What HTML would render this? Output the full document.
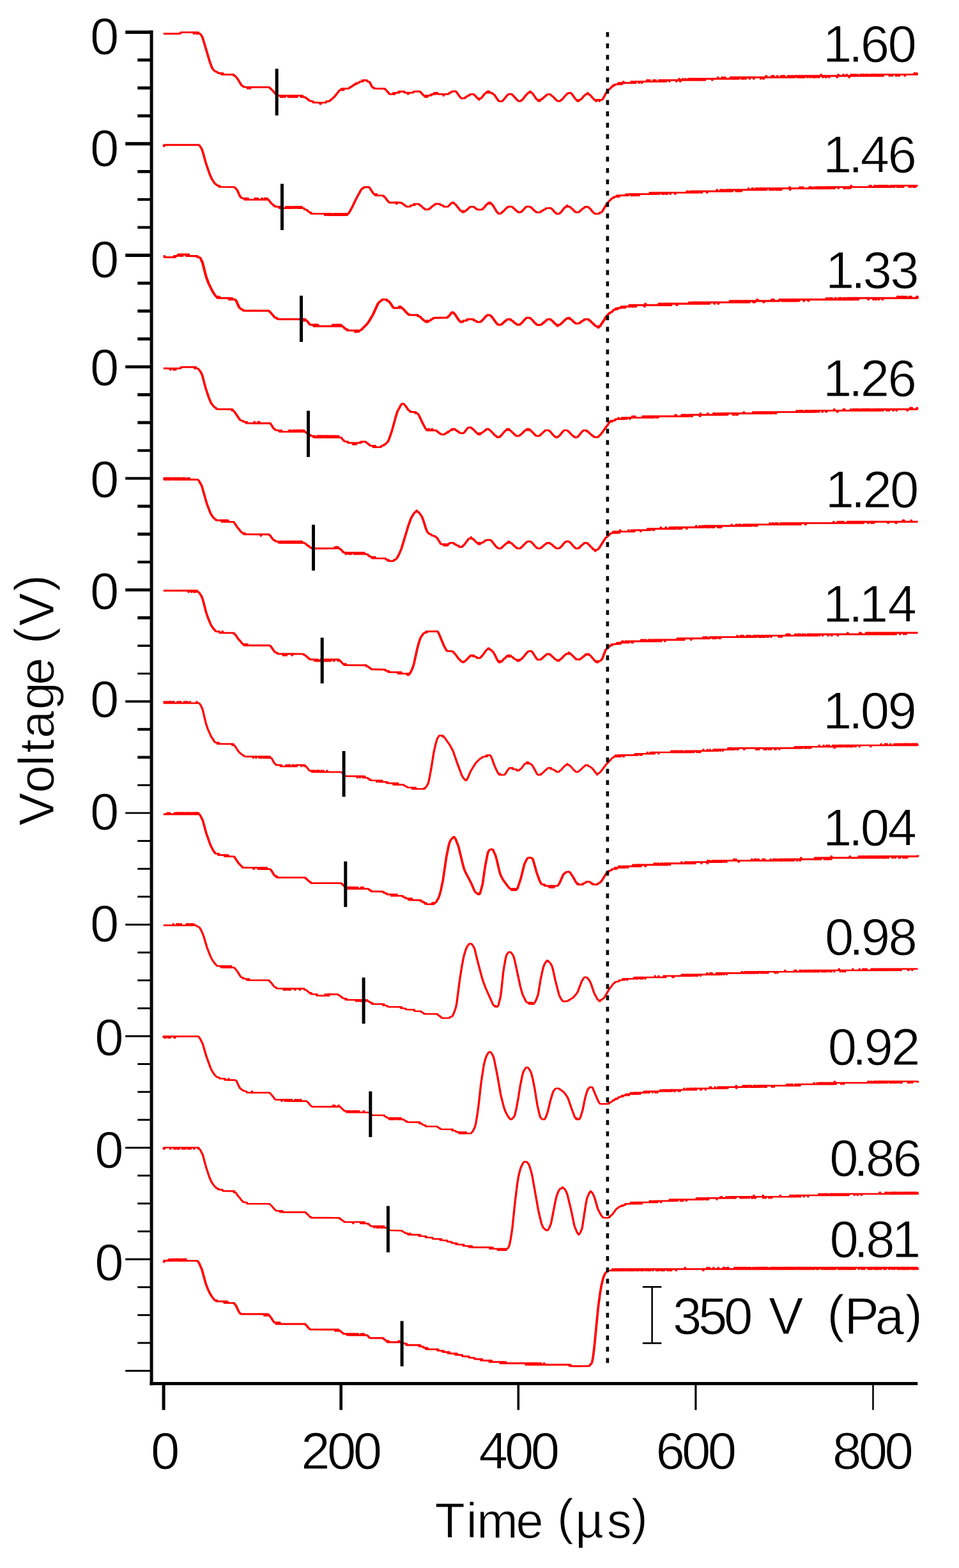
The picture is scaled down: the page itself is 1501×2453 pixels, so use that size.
<!DOCTYPE html>
<html lang="en">
<head>
<meta charset="utf-8">
<title>Voltage vs Time</title>
<style>
html,body{margin:0;padding:0;background:#fff;}
body{width:1501px;height:2453px;overflow:hidden;}
svg{display:block;}
text{font-family:"Liberation Sans",sans-serif;font-size:81.5px;fill:#000;stroke:#fff;stroke-width:1px;paint-order:fill stroke;}
.tr{fill:none;stroke:#ff0000;stroke-width:2.6;stroke-linejoin:round;stroke-linecap:butt;}
.mk{stroke:#000;stroke-width:5.0;}
.ax{stroke:#000;fill:none;}
</style>
</head>
<body>
<svg width="1501" height="2453" viewBox="0 0 1501 2453">
<rect x="0" y="0" width="1501" height="2453" fill="#ffffff"/>
<g id="traces" transform="scale(1.3,1)">
<polyline class="tr" style="stroke-width:2.9" points="196.77,52.8 215.62,52.8 217.15,52.3 217.54,51 219.46,50.6 233.31,50.6 233.69,52.8 234.08,50.6 236.38,50.6 236.77,52.8 237.15,50.6 237.54,52.8 238.31,52.8 238.69,50.6 239.08,52.8 240.62,52.6 241.38,53.4 243.31,57.2 244.08,59.5 252.92,98.1 255.62,107 257.15,109.5 258.31,110.5 258.69,111.6 259.08,111.8 261.77,112.6 262.15,114.2 266.38,114.5 266.77,116.4 267.54,116.5 267.92,114.6 268.31,114.6 268.69,116.5 281.38,116.7 281.77,118.5 282.54,118.5 283.31,119.1 286.38,124 290.62,133.2 291.77,134.4 292.92,134.6 293.31,136.1 297.92,136.4 298.31,138.6 298.69,136.4 300.62,136.4 301,138.6 301.38,136.4 323.69,136.5 324.85,137.1 325.23,138.2 326.38,139.2 326.77,140.2 328.31,141.5 331.38,146.5 332.54,147.6 333.69,147.9 334.08,149.3 337.54,149.7 337.92,151.8 338.31,149.6 338.69,149.6 339.08,151.8 339.46,149.6 339.85,149.6 340.23,151.8 340.62,149.6 341.38,149.6 341.77,151.8 342.15,149.6 342.54,151.8 342.92,151.8 343.31,149.6 346.77,149.6 347.15,151.8 347.54,149.6 348.31,149.6 348.69,151.8 349.08,149.6 349.46,151.8 350.23,151.8 350.62,149.6 351,151.8 351.38,149.6 351.77,151.8 352.15,149.6 352.54,149.6 352.92,151.8 353.31,149.6 353.69,151.8 354.08,149.6 354.46,151.8 354.85,151.8 355.23,149.6 356,149.6 356.38,151.8 356.77,149.6 357.15,149.6 357.54,151.8 357.92,149.6 362.15,149.6 362.54,151.8 362.92,149.6 363.31,151.8 363.69,151.8 364.08,149.6 364.46,151.8 366,151.6 367.92,152.3 368.31,153.4 370.23,154.6 370.62,155.7 371.77,156.4 372.15,157.5 372.54,156.7 372.92,157.9 376.77,158.7 377.15,160.3 385.23,160.6 385.62,162.8 386,162.8 386.38,160.6 392.54,160.4 392.92,158.7 397.15,158 397.54,156.8 399.08,155.8 399.46,154.8 401,153.5 401.38,152.6 402.92,151.1 408.69,141.4 409.46,140.9 410.62,140.7 411,138.9 411.38,140.7 412.15,140.7 412.54,138.7 413.31,138.7 413.69,140.7 414.08,138.6 418.69,138.6 420.62,138.1 421,136.7 423.31,135.8 423.69,134.7 425.23,133.9 425.62,132.7 426,133.6 426.38,132.4 427.92,131.9 428.31,130.4 428.69,130.3 429.08,131.6 429.46,130.2 432.54,129.4 432.92,127.9 436,127.4 436.38,125.6 436.77,127.4 437.15,127.4 437.54,125.5 437.92,125.5 441.77,125.6 442.15,127.3 444.85,128.1 447.92,135.8 448.31,136.3 449.46,136.9 449.85,138.1 450.23,137.1 450.62,138.4 451.38,138.6 462.92,138.7 463.69,139.1 464.08,140.3 465.62,141.7 467.54,144.9 468.31,145.7 468.69,146.7 469.85,147.4 473.31,147.3 473.69,145.4 474.08,147.3 474.46,145.4 474.85,147.2 475.23,147.2 475.62,145.4 479.46,145 479.85,143.2 480.23,143.2 480.62,145 481,143.1 486.77,143.2 487.15,144.9 491,145.3 491.38,147.3 491.77,145.2 497.54,144.9 497.92,143.3 504.85,142.9 506,143.5 506.38,144.5 507.54,145.6 509.46,148.8 511,149.9 511.38,151.2 511.77,149.9 512.15,151.7 512.54,149.6 512.92,151.8 513.31,149.6 514.08,149.7 514.46,151.7 514.85,149.7 518.31,149.3 518.69,147.8 519.08,147.8 519.46,149.1 519.85,147.6 522.15,147.2 522.54,145.5 522.92,147.2 523.31,147.2 523.69,145.3 524.08,145.3 524.46,147.3 524.85,145.2 525.62,145.2 526.77,145.3 527.15,147.2 533.69,147.4 534.08,149.6 534.46,147.4 538.69,147.4 540.23,147 540.62,145.6 542.92,144.8 543.31,143.6 545.23,143 548.31,142.8 549.46,143.6 553.31,150.9 554.46,152.3 554.85,153.3 555.62,153.9 557.92,153.9 559.85,153.5 560.23,152.1 562.15,151.4 562.54,150.2 565.23,149.3 565.62,147.8 569.85,147.4 571,148 571.38,149 572.54,150.2 574.46,153.3 576,154.2 576.38,155.9 576.77,156.2 577.15,154 578.31,154.2 579.46,153.4 584.08,146 585.23,145 586,144.8 586.38,143.3 587.15,143 587.54,145.2 587.92,143 588.31,145.1 588.69,145.1 589.08,143.2 589.46,143.3 589.85,145.1 592.54,145.5 592.92,146.9 594.08,147.2 594.85,147.8 599.08,155.7 600.62,158.1 601.38,158.6 604.08,158.5 605.23,157.8 605.62,156.8 606.77,155.5 610.23,149.8 611,149 611.38,148 612.92,147.2 615.62,147.3 616.77,147.9 617.15,148.9 618.69,150.5 619.85,152.8 620.23,152.8 621.77,155.5 623.31,156.7 623.69,157.9 625.62,158.4 627.54,157.8 627.92,156.7 629.46,155.4 632.15,150.6 634.08,147.6 635.23,146.5 635.62,145.5 636.77,144.9 637.54,145 637.92,143.1 638.31,143 638.69,143.1 639.08,144.9 640.23,145.1 641.38,146.4 646,155.3 647.15,156.4 647.92,156.5 648.31,158.3 648.69,156.2 649.08,158.4 649.46,156.3 649.85,158.1 650.23,156.4 651.77,155.9 652.15,154.8 652.54,155.4 652.92,154.4 654.08,153.5 654.46,152.5 656,151.3 656.38,150.3 657.92,149.3 658.31,148.1 661,147.4 662.92,147.8 663.31,149.1 665.23,150.4 665.62,151.3 667.15,152.8 668.69,155.4 670.23,156.6 670.62,157.7 672.92,158.4 674.85,157.9 675.23,156.7 677.15,155.2 680.23,150.1 681.77,148.4 682.15,147.5 683.31,146.7 683.69,145.6 686.38,145.2 687.92,146 692.15,153.6 693.69,156 694.46,156.5 694.85,157.8 695.23,158.1 695.62,156.4 696,156.2 696.38,158.4 696.77,158.3 697.15,156.5 698.31,156.4 699.46,155.5 699.85,154.6 701,153.4 702.92,150.3 704.08,149.2 704.46,148.2 706,147.3 707.15,147.4 707.54,145.2 707.92,147.4 709.08,147.3 709.85,147.7 710.23,148.7 711.77,150.3 713.31,153.1 714.85,154.8 715.23,155.7 716.38,156.4 717.15,156.4 717.54,158.3 717.92,158.4 718.31,156.2 718.69,156.2 721.38,156.2 721.77,158.4 722.15,156.2 724.46,156.3 725.23,155.9 726.38,153.8 729.46,146 731,143.3 732.15,141.5 732.54,141.6 733.69,139.4 735.23,137.8 736.77,135.2 737.15,135.7 737.54,135.4 738.69,133 739.08,133.8 739.85,133.6 740.23,132.2 744.08,131.9 744.46,129.9 744.85,131.9 745.23,129.9 746.38,129.8 746.77,131.9 747.15,131.9 747.54,129.8 748.31,129.8 748.69,131.9 749.08,129.8 750.23,129.8 750.62,127.7 751,129.8 759.85,129.8 760.23,127.6 761,127.6 761.38,129.8 762.15,129.8 762.54,127.6 762.92,127.6 763.31,129.8 763.69,129.8 764.08,127.6 764.46,127.6 764.85,129.8 765.23,129.8 765.62,127.6 769.08,127.6 769.46,129.8 769.85,127.6 772.54,127.6 772.92,129.8 773.31,127.6 778.69,127.6 779.08,125.4 779.46,127.6 779.85,127.6 780.23,125.4 780.62,127.6 781.77,127.6 782.15,125.4 782.54,127.6 786.38,127.6 786.77,125.4 787.15,127.6 788.31,127.6 788.69,125.4 789.08,127.6 789.46,125.4 789.85,127.6 793.31,127.6 793.69,125.4 794.08,127.6 794.46,127.6 794.85,125.4 795.23,127.6 795.62,125.4 796,125.4 796.38,127.6 796.77,125.4 797.15,127.6 797.54,125.4 797.92,127.6 798.31,125.4 798.69,125.4 799.08,127.6 800.23,127.6 800.62,125.4 801,127.6 801.38,125.4 801.77,125.4 802.15,127.6 802.54,125.4 805.62,125.4 806,127.6 806.38,125.4 814.08,125.4 814.46,127.6 814.85,125.4 817.54,125.4 817.92,123.2 818.31,125.4 818.69,125.4 819.08,127.6 819.46,125.4 821.38,125.4 821.77,123.2 822.15,125.4 824.85,125.4 825.23,123.2 825.62,125.4 828.31,125.4 828.69,123.2 829.08,125.4 829.46,123.2 830.62,123.2 831,125.4 831.38,123.2 831.77,125.4 832.15,125.4 832.54,123.2 832.92,123.2 833.31,125.4 833.69,123.2 834.46,123.2 834.85,125.4 835.62,125.4 836,123.2 837.15,123.2 837.54,125.4 837.92,123.2 838.31,123.2 838.69,125.4 839.85,125.4 840.23,123.2 840.62,123.2 841,125.4 841.77,125.4 842.15,123.2 842.54,125.4 842.92,123.2 844.08,123.2 844.46,125.4 845.23,125.4 845.62,123.2 847.15,123.2 847.54,125.4 847.92,123.2 848.31,125.4 848.69,125.4 849.08,123.2 857.15,123.2 857.54,125.4 857.92,123.2 864.08,123.2 864.46,121 864.85,123.2 869.08,123.2 869.46,121 869.85,123.2 870.23,121 870.62,123.2 872.54,123.2 872.92,121 873.31,123.2 879.08,123.2 879.46,121 879.85,121 880.23,123.2 880.62,121 881,123.2 881.77,123.2 882.15,121 882.54,123.2 883.69,123.2 884.08,121 884.46,123.2 884.85,121 885.62,121 886,123.2 887.15,123.2 887.54,121 888.31,121 888.69,123.2 889.46,123.2 889.85,121 892.54,121 892.92,123.2 893.69,123.2 894.08,121 895.23,121 895.62,123.2 896,121 897.54,121 897.92,123.2 898.31,121 902.15,121 902.54,123.2 902.92,121 907.15,121 907.54,123.2 907.92,121 914.46,121 915.62,121 916,123.2 916.38,121 918.69,121 919.08,123.2 919.46,123.2 919.85,121 922.15,121 922.54,118.8 922.92,121 929.08,121 929.46,118.8 929.85,121 930.23,121 930.62,118.8 931,121 931.38,118.8 931.77,121 935.62,121 936,118.8 936.38,121 940.23,121 940.62,118.8 941,121 941.77,121 942.15,118.8 942.54,118.8 942.92,121 943.31,121 943.69,118.8 944.08,121 944.46,118.8 944.85,121 948.69,121 949.08,118.8 949.46,121 949.85,118.8 950.23,118.8 950.62,121 952.54,121 952.92,118.8 953.31,118.8 953.69,121 954.46,121 954.85,118.8 955.23,121 956.77,121 957.15,118.8 959.46,118.8 959.85,121 960.23,121 960.62,118.8 961,121 961.38,121 961.77,118.8 962.92,118.8 963.31,121 963.69,118.8 964.08,121 964.85,121 965.23,118.8 966,118.8 966.38,121 966.77,118.8 967.15,121 967.54,118.8 967.92,121 968.69,121 969.08,118.8 971.77,118.8 972.15,121 972.54,121 972.92,118.8 975.23,118.8 975.62,121 976,118.8 978.31,118.8 978.69,121 979.08,118.8 979.46,118.8 979.85,121 980.23,118.8 980.62,121 981,118.8 982.15,118.8 982.54,121 982.92,118.8 984.85,118.8 985.23,121 985.62,118.8 986,121 986.38,118.8 988.31,118.8 988.69,116.6 989.08,118.8 990.23,118.8 990.62,121 991,118.8 993.69,118.8 994.08,121 994.46,118.8 994.85,121 995.23,118.8 997.92,118.8 998.31,121 998.69,118.8 1007.54,118.8 1007.92,121 1008.31,118.8 1009.08,118.8 1009.46,116.6 1009.85,118.8 1015.23,118.8 1015.62,116.6 1016,118.8 1019.08,118.8 1019.46,116.6 1019.85,118.8 1022.15,118.8 1022.54,121 1022.92,118.8 1024.46,118.8 1024.85,116.6 1025.23,118.8 1026.77,118.8 1027.15,116.6 1027.54,118.8 1029.46,118.8 1029.85,116.6 1030.23,118.8 1032.15,118.8 1032.54,116.6 1032.92,118.8 1035.62,118.8 1036,116.6 1036.38,116.6 1036.77,118.8 1037.15,118.8 1037.54,116.6 1038.31,116.6 1038.69,118.8 1039.08,116.6 1039.46,116.6 1039.85,118.8 1040.23,118.8 1040.62,116.6 1041,118.8 1042.15,118.8 1042.54,116.6 1042.92,116.6 1043.31,118.8 1043.69,118.8 1044.08,116.6 1044.46,116.6 1044.85,118.8 1045.23,116.6 1045.62,116.6 1046,118.8 1047.92,118.8 1048.31,116.6 1048.69,118.8 1049.46,118.8 1049.85,116.6 1050.23,118.8 1050.62,116.6 1051.77,116.6 1052.15,118.8 1052.54,116.6 1052.92,118.8 1053.31,116.6 1054.08,116.6 1054.46,118.8 1054.85,116.6 1055.23,118.8 1056,118.8 1056.38,116.6 1056.77,118.8 1057.54,118.8 1057.92,116.6 1058.31,118.8 1058.69,118.8 1059.08,116.6 1059.46,118.8 1060.23,118.8 1060.62,116.6 1061,116.6 1061.38,118.8 1061.77,116.6 1062.15,118.8 1062.54,116.6 1062.92,118.8 1063.31,118.8 1063.69,116.6 1070.62,116.6 1071,118.8 1071.38,116.6 1073.69,116.6 1074.08,118.8 1074.46,116.6 1078.69,116.6 1079.08,118.8 1079.46,118.8 1079.85,116.6 1082.15,116.6 1082.54,118.8 1082.92,116.6 1089.08,116.6 1089.46,118.8 1089.85,116.6 1100.62,116.6 1101,114.4 1101.38,116.6 1103.31,116.6 1103.69,114.4 1104.08,116.6 1105.08,116.6"/>
<polyline class="tr" style="stroke-width:2.9" points="196.77,226.6 197.15,226.6 197.54,228.8 197.92,226.6 239.46,226.8 240.23,227.6 242.54,232.1 243.69,235.8 248.31,256.9 252.92,274.1 255.23,280.4 258.69,287.1 259.85,288.4 261,288.9 261.38,290.2 263.31,290.6 263.69,292.2 264.08,292.3 264.46,290.7 264.85,292.4 265.23,292.4 281.38,292.6 282.54,293 283.31,294.3 284.46,295.5 285.62,297.6 289.08,307.5 290.23,308.4 290.62,309.6 292.54,310.3 294.08,310.4 294.46,312.3 294.85,312.3 295.23,310.3 295.62,312.4 296.38,312.4 296.77,310.2 297.15,312.4 297.92,312.4 298.31,310.2 298.69,312.4 306.77,312.4 307.15,310.2 307.54,312.4 309.46,312.4 309.85,310.2 310.23,310.2 310.62,312.4 314.85,312.4 315.23,310.2 315.62,312.4 318.31,312.4 318.69,310.2 319.08,312.4 319.46,310.2 319.85,312.4 321.38,312.4 321.77,310.2 322.15,312.2 322.92,312.3 323.69,313.1 326.77,318.4 328.31,319.7 328.69,320.7 330.23,321.7 330.62,322.9 331,321.9 331.38,323.2 336,323.5 336.38,325.5 337.15,325.6 337.54,323.4 337.92,325.6 338.31,325.6 338.69,323.4 339.08,325.6 344.08,325.6 344.46,323.4 344.85,325.6 345.23,325.6 345.62,323.4 346,325.6 347.15,325.6 347.54,323.4 347.92,325.6 349.08,325.6 349.46,323.4 349.85,323.4 350.23,325.6 352.15,325.6 352.54,323.4 354.08,323.4 354.46,325.6 355.23,325.6 355.62,323.4 357.54,323.4 357.92,325.6 358.31,323.4 358.69,325.6 359.08,325.6 359.46,323.4 360.23,323.4 360.62,325.6 361,325.6 361.38,323.4 361.77,325.6 362.15,323.5 362.54,325.5 362.92,325.4 363.31,323.7 363.69,325.4 366,325.9 366.38,327.3 369.46,328.3 369.85,329.5 371.38,330.4 371.77,331.5 373.69,332.5 374.08,333.7 374.46,332.7 374.85,334.1 376,334.3 391,334.4 391.38,336.6 391.77,334.4 392.15,336.6 392.54,334.4 394.08,334.4 394.46,336.6 394.85,334.4 395.23,334.4 395.62,336.6 396,336.6 396.38,334.4 396.77,336.6 397.15,334.4 397.54,334.4 397.92,336.6 398.31,334.4 398.69,336.6 399.08,334.4 399.46,336.6 401.38,336.6 401.77,334.4 402.15,336.6 402.54,336.6 402.92,334.4 404.08,334.4 404.46,336.6 404.85,334.4 405.23,336.6 405.62,336.6 406,334.4 406.38,336.6 406.77,334.4 407.15,334.4 407.54,336.6 408.31,336.6 408.69,334.4 409.46,334.4 409.85,336.6 410.23,334.4 410.62,336.6 411,336.6 411.38,334.4 411.77,336.6 412.54,336.6 412.92,334.4 413.31,336.6 413.69,334.4 414.08,336.6 414.46,334.4 415.23,334.4 415.62,336.6 416,334.4 416.77,334.4 417.15,336.6 417.54,334.4 417.92,336.5 418.31,334.8 419.08,334.6 419.85,333.6 423.69,324.9 428.69,311.2 434.46,297.6 436,295 437.54,294.6 437.92,292.9 439.85,292.7 443.69,292.6 444.85,293.3 449.46,302.7 450.62,303.8 451.38,303.8 451.77,305.6 452.15,303.7 452.54,303.7 452.92,305.7 453.31,303.7 453.69,305.7 460.23,305.9 461.77,306.2 462.15,307.5 463.69,308.7 466.38,313.7 468.69,316.8 469.46,317 477.15,316.8 477.54,319 477.92,316.8 482.92,317 483.69,317.3 484.08,318.6 486.38,319.8 486.77,320.9 488.31,321.7 488.69,322.9 490.23,323.4 494.08,323.1 494.46,321.5 497.92,320.9 498.31,319.3 498.69,319.3 499.08,320.8 499.46,319.1 503.69,319.1 504.85,319.5 505.23,320.7 507.15,322 507.54,323 508.69,324 509.08,325 511,326.3 511.38,327.4 512.54,327.8 516.38,327.5 516.77,326.3 518.69,325.3 519.08,324.2 520.62,323 521,322 523.31,320.5 523.69,319.3 524.46,319 529.08,319 529.85,319.3 530.23,320.6 533.69,321.7 534.08,323.2 538.69,323.4 539.85,322.9 540.23,321.8 541.77,320.4 542.15,319.4 542.92,318.7 543.31,317.7 544.46,316.9 545.23,316.8 546.38,317.2 546.77,318.5 548.31,319.6 554.08,329.1 555.23,330.1 556.38,330.4 556.77,332 557.15,332.1 557.54,330 557.92,330 558.31,332.1 558.69,330.3 559.85,330.3 561.38,329.4 561.77,328.4 563.31,327.1 563.69,326.1 564.85,325.3 565.23,324.2 566.77,323.4 569.46,323.4 571,323.9 571.38,325.2 573.31,326 573.69,327.2 574.85,327.7 576.38,328 580.23,327.9 581,327.4 581.38,326.4 582.92,324.8 585.62,320.2 587.54,318.6 587.92,317.4 589.46,316.8 589.85,319 590.23,316.9 590.62,317.1 591,318.4 592.15,319.2 594.08,322.5 597.92,331 599.46,332.9 599.85,333.9 601,334.4 603.31,333.9 603.69,332.7 604.85,332.1 605.23,331.1 607.15,329.3 609.08,326.3 610.23,325.2 610.62,324.2 611,324.8 611.38,323.7 612.15,323.3 615.62,323.3 616.77,323.7 617.15,324 617.54,325 619.08,326.2 619.46,327.2 620.62,328.2 621,329.2 622.92,330.5 623.31,331.7 626,332.2 627.92,331.4 628.31,330.3 629.46,329.3 629.85,328.3 631.38,326.6 632.92,324 634.46,323.1 636,323.4 637.54,323.2 639.08,323.9 639.46,324.9 641,326.2 641.38,327.2 642.92,328.6 643.31,329.6 644.85,330.6 645.23,331.8 646.38,332.2 649.08,332.2 651,331.8 651.38,330.3 653.69,329.6 654.08,328.3 656.77,327.4 657.15,326 659.08,325.6 662.92,325.5 664.08,326.2 664.46,327.2 665.62,328.3 667.54,331.5 669.08,332.9 669.46,334 670.62,334.5 672.92,334.4 674.08,333.8 674.46,332.8 675.62,331.7 679.85,324.5 680.23,324.7 680.62,323.8 681.38,323.2 682.54,323.2 682.92,321.3 683.31,323.4 685.23,323.2 686.77,324.1 687.15,325.1 690.62,328.8 691,329.8 692.15,330.5 692.54,331.7 694.08,332.2 696,332.1 697.54,331.5 697.92,330.3 699.46,329.3 699.85,328.3 701,327.4 701.38,326.4 703.69,325 704.08,323.7 705.62,323.4 707.92,323.6 708.31,323.8 708.69,324.9 710.62,326.6 713.69,331.7 715.23,333 715.62,334 716.77,334.5 719.85,334.4 721.77,334 722.15,332.6 724.08,331.9 724.85,331.3 730.23,319.5 731.38,318 732.92,315.3 735.62,311.9 736,310.9 738.31,309.6 738.69,308.3 739.08,309.6 739.46,308.1 742.15,307.9 742.54,306 743.31,305.9 743.69,307.9 744.08,305.9 744.85,305.9 745.23,307.9 745.62,305.8 753.69,305.8 754.08,303.6 754.46,305.8 756.38,305.8 756.77,303.6 759.46,303.6 759.85,305.8 760.23,303.6 761.38,303.6 761.77,305.8 762.15,303.6 762.92,303.6 763.31,305.8 763.69,303.6 764.08,305.8 764.46,303.6 765.62,303.6 766,305.8 766.38,303.6 766.77,305.8 767.15,303.6 769.08,303.6 769.46,305.8 769.85,303.6 782.15,303.6 782.54,301.4 782.92,303.6 784.08,303.6 784.46,301.4 784.85,303.6 785.62,303.6 786,301.4 786.38,303.6 786.77,301.4 787.15,303.6 787.54,301.4 788.69,301.4 789.08,303.6 789.46,301.4 789.85,301.4 790.23,303.6 790.62,301.4 791,303.6 791.38,303.6 791.77,301.4 793.69,301.4 794.08,303.6 794.46,301.4 797.15,301.4 797.54,303.6 797.92,301.4 798.69,301.4 799.08,303.6 799.46,301.4 801.38,301.4 801.77,303.6 802.15,301.4 802.54,301.4 802.92,303.6 803.31,303.6 803.69,301.4 806.77,301.4 807.15,303.6 807.54,301.4 812.54,301.4 812.92,303.6 813.31,301.4 826.77,301.4 827.15,299.2 827.54,301.4 827.92,301.4 828.31,299.2 828.69,301.4 831,301.4 831.38,299.2 831.77,301.4 832.92,301.4 833.31,299.2 833.69,301.4 834.08,299.2 834.46,301.4 834.85,301.4 835.23,299.2 835.62,301.4 836,299.2 836.38,299.2 836.77,301.4 837.54,301.4 837.92,299.2 838.69,299.2 839.08,301.4 839.46,299.2 839.85,301.4 840.62,301.4 841,299.2 843.31,299.2 843.69,301.4 844.08,299.2 844.46,299.2 844.85,301.4 845.23,299.2 851,299.2 851.38,301.4 851.77,299.2 862.92,299.2 863.31,297 863.69,299.2 867.15,299.2 867.54,297 867.92,299.2 868.31,297 868.69,299.2 870.23,299.2 870.62,297 871,299.2 871.38,297 871.77,299.2 873.69,299.2 874.08,297 874.85,297 875.23,299.2 875.62,297 876.77,297 877.15,299.2 877.54,297 878.31,297 878.69,299.2 879.08,297 879.46,299.2 879.85,297 880.62,297 881,299.2 881.77,299.2 882.15,297 886,297 886.38,299.2 886.77,297 888.31,297 888.69,299.2 889.08,297 889.46,297 889.85,299.2 890.23,297 891.77,297 892.15,299.2 892.54,299.2 892.92,297 901,297 901.38,294.8 901.77,297 905.23,297 905.62,294.8 906,297 906.38,297 906.77,294.8 907.15,297 909.85,297 910.23,294.8 910.62,294.8 911,297 911.38,294.8 911.77,297 912.15,297 912.54,294.8 912.92,297 913.69,297 914.08,294.8 914.46,297 915.23,297 915.62,294.8 916,297 916.38,294.8 916.77,297 917.15,294.8 917.54,297 918.31,297 918.69,294.8 919.08,294.8 919.46,297 919.85,294.8 920.23,297 920.62,297 921,294.8 921.77,294.8 922.15,297 922.92,297 923.31,294.8 926.38,294.8 926.77,297 927.15,294.8 927.54,294.8 927.92,297 928.31,297 928.69,294.8 930.23,294.8 930.62,297 931.38,297 931.77,294.8 933.69,294.8 934.08,297 934.46,297 934.85,294.8 936,294.8 936.38,297 936.77,297 937.15,294.8 937.54,294.8 937.92,297 938.31,294.8 938.69,294.8 939.08,297 939.46,294.8 940.23,294.8 940.62,297 941,294.8 950.23,294.8 950.62,292.6 951.38,297 951.77,294.8 962.92,294.8 963.31,292.6 963.69,294.8 966,294.8 966.38,292.6 966.77,294.8 974.46,294.8 974.85,292.6 975.23,294.8 975.62,292.6 976,294.8 976.38,294.8 976.77,292.6 977.15,292.6 977.54,294.8 980.23,294.8 980.62,292.6 981,294.8 983.31,294.8 983.69,292.6 984.08,294.8 984.85,294.8 985.23,292.6 985.62,292.6 986,294.8 986.38,294.8 986.77,292.6 987.15,292.6 987.54,294.8 988.69,294.8 989.08,292.6 989.46,294.8 990.23,294.8 990.62,292.6 991,294.8 992.54,294.8 992.92,292.6 993.31,294.8 993.69,294.8 994.08,292.6 994.46,294.8 994.85,292.6 995.23,292.6 995.62,294.8 996,294.8 996.38,292.6 996.77,294.8 997.15,292.6 997.54,294.8 997.92,292.6 998.31,294.8 998.69,294.8 999.08,292.6 1000.62,292.6 1001,294.8 1001.38,292.6 1002.92,292.6 1003.31,294.8 1003.69,292.6 1004.46,292.6 1004.85,294.8 1005.23,292.6 1009.08,292.6 1009.46,294.8 1009.85,292.6 1016,292.6 1016.38,294.8 1016.77,292.6 1017.54,292.6 1017.92,294.8 1018.31,292.6 1020.62,292.6 1021,294.8 1021.38,292.6 1023.31,292.6 1023.69,294.8 1024.08,292.6 1024.46,292.6 1024.85,290.4 1025.23,292.6 1046.77,292.6 1047.15,290.4 1047.54,292.6 1048.31,292.6 1048.69,290.4 1049.08,292.6 1052.54,292.6 1052.92,290.4 1053.31,290.4 1053.69,292.6 1054.08,292.6 1054.46,290.4 1054.85,292.6 1056.77,292.6 1057.15,290.4 1057.54,292.6 1057.92,292.6 1058.31,290.4 1058.69,292.6 1059.08,290.4 1059.46,290.4 1059.85,292.6 1060.23,290.4 1060.62,292.6 1061,290.4 1061.38,292.6 1061.77,292.6 1062.15,290.4 1062.54,292.6 1063.31,292.6 1063.69,290.4 1064.08,292.6 1064.46,290.4 1064.85,292.6 1065.23,290.4 1066.38,290.4 1066.77,292.6 1067.15,292.6 1067.54,290.4 1067.92,292.6 1068.69,292.6 1069.08,290.4 1069.46,292.6 1071.77,292.6 1072.15,290.4 1072.92,290.4 1073.31,292.6 1074.08,292.6 1074.46,290.4 1074.85,290.4 1075.23,292.6 1075.62,292.6 1076,290.4 1076.38,292.6 1076.77,292.6 1077.15,290.4 1079.85,290.4 1080.23,292.6 1080.62,292.6 1081,290.4 1081.38,290.4 1081.77,292.6 1082.15,290.4 1082.54,292.6 1082.92,290.4 1084.08,290.4 1084.46,292.6 1084.85,290.4 1086,290.4 1086.38,292.6 1086.77,290.4 1087.15,292.6 1087.54,292.6 1087.92,290.4 1094.46,290.4 1094.85,292.6 1095.23,290.4 1096.38,290.4 1096.77,292.6 1097.15,290.4 1099.46,290.4 1099.85,292.6 1100.23,290.4 1100.62,290.4 1101,292.6 1101.38,290.4 1101.77,290.4 1102.15,292.6 1102.54,290.4 1105.08,290.4"/>
<polyline class="tr" style="stroke-width:3.2" points="196.77,400.5 197.92,400.6 198.31,402.4 208.31,402.5 209.46,402.4 209.85,400.6 210.23,402.3 210.62,402.3 211,400.5 214.08,400.3 214.46,398.4 216.77,398.2 217.15,400.4 217.54,398.2 219.08,398.2 219.46,400.4 219.85,398.2 224.08,398.2 224.46,400.4 224.85,398.2 225.23,400.4 225.62,400.4 226,398.2 226.38,400.4 226.77,398.2 227.15,398.2 227.54,400.4 237.54,400.6 237.92,402.5 240.23,402.6 241,403.5 241.77,405.2 243.69,410.4 248.31,433.5 251.38,444 255.62,455.1 258.69,461.5 260.23,464 261,464.4 261.38,466 261.77,464.3 262.54,464.3 262.92,466.3 263.31,464.3 263.69,466.3 264.08,464.3 264.46,466.4 275.62,466.4 276,468.6 276.38,468.6 276.77,466.4 277.15,466.4 277.54,468.6 278.69,468.5 279.08,466.5 279.46,466.5 279.85,468.5 283.31,468.7 284.85,471.7 287.92,481.1 289.46,482.2 289.85,483.4 292.54,484.4 292.92,485.8 295.62,486.2 323.31,486.2 324.08,486.5 324.46,487.8 325.62,488.5 329.46,494.6 330.23,495.5 330.62,496.4 331.77,497.2 333.31,497.4 333.69,499 337.54,499.4 363.31,499.4 363.69,501.6 364.08,501.6 364.46,499.4 365.23,499.4 365.62,501.6 366,499.4 366.38,501.6 366.77,499.4 367.54,499.5 367.92,501.5 368.69,501.3 369.85,502.3 372.92,507.6 374.08,508.2 377.54,508.2 377.92,510.3 378.31,508.2 378.69,508.2 379.08,510.4 379.46,508.2 379.85,508.2 380.23,510.4 380.62,508.2 381,508.2 381.38,510.4 381.77,510.4 382.15,508.2 382.54,508.2 382.92,510.4 400.23,510.4 400.62,508.2 401,508.2 401.38,510.4 401.77,510.4 402.15,508.2 402.54,510.4 403.69,510.4 404.08,508.2 404.46,510.4 405.23,510.4 405.62,508.2 406,508.2 406.38,510.4 406.77,508.2 407.15,508.2 407.54,510.4 407.92,510.4 408.31,508.2 409.08,508.2 409.46,510.4 409.85,510.4 410.23,508.2 410.62,508.3 411,510.1 412.15,510.3 413.31,511.2 413.69,512.1 414.85,513.1 415.23,514.1 416.77,515.1 417.92,515 418.31,516.9 427.15,517 427.54,519.2 428.31,519.2 428.69,517 429.08,519.2 429.46,519.2 429.85,517 430.23,519.2 430.62,517 431.38,517.1 431.77,519 432.15,517.2 433.31,517.1 434.85,516.3 435.23,515.2 436.38,514.4 436.77,513.4 437.92,512.3 438.31,511.4 440.23,509.4 440.62,508.5 441.77,507.2 444.08,503 449.08,492.1 454.85,475.6 456,473.4 457.15,472.4 457.54,471.4 459.46,470.3 459.85,468.9 461,468.6 465.62,468.7 466,470.7 467.15,470.6 467.92,471 469.85,474.1 473.31,480.9 474.08,481.6 474.85,481.9 480.23,481.7 480.62,479.7 481.38,479.6 481.77,481.8 482.15,481.8 482.54,479.8 482.92,481.5 484.08,481.7 485.23,482.7 485.62,483.6 489.46,489 489.85,489.9 491.38,491.1 491.77,492.3 492.15,491.2 492.54,492.6 492.92,492.7 502.92,492.9 503.31,494.6 504.46,494.6 506,495.6 506.38,496.6 507.54,497.6 507.92,498.5 509.46,499.9 509.85,500.9 511,501.7 512.15,502 512.54,503.5 513.31,503.7 514.08,503.8 514.46,501.7 514.85,503.7 515.62,503.5 516,501.9 518.69,501 519.08,499.8 521,499 521.38,497.7 522.15,497.4 538.69,496.9 539.08,495.7 540.62,494.4 542.54,490.9 543.31,490.1 543.69,489.1 544.85,488.4 546,488.9 546.38,490.1 547.54,491.2 552.54,501.1 553.69,502.2 554.08,503.3 554.85,503.8 557.15,503.7 557.54,501.8 562.15,501.3 562.54,499.7 565.62,499.4 568.31,499.4 570.23,499.8 570.62,501.3 573.31,502 573.69,503.4 575.62,503.8 578.31,503.7 579.46,503 579.85,501.9 580.62,501.3 581,500.3 581.38,500.5 584.46,495.5 585.62,494.5 586,493.5 587.15,492.9 589.08,492.8 590.62,493.4 591,494.5 592.15,495.6 594.85,500.6 595.23,500.9 597.15,504.8 598.69,506.4 599.08,507.5 600.23,508.1 602.54,508.1 604.08,507.5 604.46,506.3 605.62,505.6 606,504.6 607.15,503.6 607.54,502.6 607.92,503 608.31,502.8 608.69,501.7 609.85,501.1 610.23,499.9 612.15,499.4 614.85,499.7 615.23,500.9 617.54,502.3 617.92,503.3 619.08,504.2 619.46,505.2 619.85,504.8 620.23,505.8 621.77,506.6 622.15,507.8 623.69,508.2 625.62,508.1 626,507.9 626.38,506.7 628.31,505.2 631,500.7 631.38,500.7 631.77,499.8 632.92,498.7 633.31,497.7 634.46,497.1 637.15,497.1 638.69,497.8 639.08,498.8 641,500.6 644.08,505.5 645.62,506.7 646,507.8 647.15,508.3 650.23,508.3 651.77,507.8 652.15,507.6 652.54,506.5 653.69,505.7 654.08,504.7 654.46,505.2 654.85,504.9 655.23,503.8 656.38,503 656.77,502 657.92,501.3 658.31,500.1 660.23,499.4 662.92,499.6 663.31,499.8 663.69,500.9 665.62,502.4 667.15,505.1 668.69,506.6 669.08,507.6 670.23,508.3 671,508.3 671.38,510.3 671.77,508.2 673.31,508.3 674.85,507.6 675.23,506.5 676.77,505.3 677.15,504.3 678.31,503.2 678.69,502.2 680.23,500.9 680.62,499.9 682.15,499 682.54,497.7 684.85,497.2 685.23,497.3 685.62,499 686,497.6 686.38,498.9 688.31,500.1 688.69,501 689.85,502.2 690.23,503.1 691.77,504.4 692.15,505.5 693.69,506.1 696.38,506 697.92,505.6 698.31,504.4 699.85,503.7 700.23,502.6 702.92,501.2 703.31,499.9 703.69,499.7 707.15,499.4 708.69,499.8 709.08,500 709.46,501.2 711,502.2 711.38,503.2 712.92,504.6 713.31,505.5 714.85,507 715.23,507.9 716.38,508.8 716.77,509.9 718.31,510.6 719.46,510.5 719.85,512.5 720.23,510.4 720.62,512.5 721,512.2 721.38,510.8 722.54,509.9 727.54,500.3 729.46,495.8 731,493.3 732.15,492.2 732.54,491.2 733.69,490.3 734.08,489.3 734.46,489.8 734.85,488.8 737.15,487.6 737.54,486.4 738.31,486.1 738.69,484.8 741,484.1 741.38,482.6 741.77,483.9 742.15,483.8 742.54,482.3 743.31,482.2 743.69,483.6 744.08,482 747.54,481.6 747.92,479.8 748.69,479.7 749.08,481.6 749.46,479.7 751.77,479.6 752.15,481.7 752.54,479.6 757.54,479.6 757.92,477.4 758.31,479.6 759.46,479.6 759.85,477.4 760.23,479.6 761,479.6 761.38,477.4 761.77,479.6 762.54,479.6 762.92,477.4 763.31,477.4 763.69,479.6 764.08,477.4 764.85,477.4 765.23,479.6 765.62,479.6 766,477.4 775.62,477.4 776,479.6 776.38,477.4 776.77,477.4 777.15,475.2 777.54,477.4 787.15,477.4 792.92,477.4 793.31,475.2 794.08,475.2 794.46,477.4 794.85,475.2 795.23,475.2 795.62,477.4 796.38,477.4 796.77,475.2 797.54,475.2 797.92,477.4 799.46,477.4 799.85,475.2 800.23,477.4 800.62,477.4 801,475.2 801.38,475.2 801.77,477.4 802.54,477.4 802.92,475.2 803.69,475.2 804.08,477.4 804.46,477.4 804.85,475.2 805.23,475.2 805.62,477.4 806,477.4 806.38,475.2 807.54,475.2 807.92,477.4 808.31,475.2 814.46,475.2 814.85,477.4 815.23,475.2 829.46,475.2 829.85,473 830.23,475.2 832.54,475.2 832.92,473 833.69,473 834.08,475.2 834.46,475.2 834.85,473 835.62,473 836,475.2 836.38,473 836.77,473 837.15,475.2 837.54,475.2 837.92,473 838.31,475.2 838.69,473 839.08,475.2 839.85,475.2 840.23,473 840.62,475.2 841,473 841.38,475.2 841.77,475.2 842.15,473 842.54,473 842.92,475.2 843.31,473 843.69,473 844.08,475.2 844.46,473 844.85,473 845.23,475.2 845.62,473 847.54,473 847.92,475.2 848.31,473 848.69,473 849.08,475.2 850.23,475.2 850.62,473 851,473 851.38,475.2 851.77,473 852.15,473 852.54,475.2 852.92,473 853.69,473 854.08,475.2 854.46,473 859.85,473 860.23,475.2 860.62,473 864.46,473 864.85,475.2 865.23,473 878.69,473 879.08,470.8 879.46,473 879.85,473 880.23,470.8 880.62,473 881.38,473 881.77,470.8 882.15,473 882.54,470.8 882.92,470.8 883.31,473 884.08,473 884.46,470.8 884.85,473 885.23,470.8 885.62,473 886,473 886.38,470.8 886.77,473 887.15,470.8 887.54,473 887.92,473 888.31,470.8 888.69,473 889.08,473 889.46,470.8 890.62,470.8 891,473 891.38,470.8 892.54,470.8 892.92,473 894.08,473 894.46,470.8 895.62,470.8 896,473 896.38,470.8 897.54,470.8 897.92,473 898.31,470.8 898.69,473 899.08,470.8 899.46,473 899.85,470.8 900.23,470.8 900.62,473 901,470.8 901.77,470.8 902.15,473 902.54,470.8 906.77,470.8 907.15,473 907.54,473 907.92,470.8 908.31,473 908.69,473 909.08,470.8 911.38,470.8 911.77,468.6 912.15,470.8 919.08,470.8 919.46,473 919.85,470.8 929.08,470.8 929.46,468.6 929.85,470.8 930.62,470.8 931,468.6 931.38,468.6 931.77,470.8 938.31,470.8 938.69,468.6 941,468.6 941.38,470.8 942.15,470.8 942.54,468.6 942.92,468.6 943.31,470.8 943.69,470.8 944.08,468.6 944.85,468.6 945.23,470.8 945.62,468.6 946,470.8 947.54,470.8 947.92,468.6 948.31,470.8 948.69,468.6 949.08,470.8 949.46,468.6 950.23,468.6 950.62,470.8 951,468.6 952.15,468.6 952.54,470.8 952.92,470.8 953.31,468.6 954.08,468.6 954.46,470.8 954.85,468.6 955.23,470.8 955.62,468.6 956,468.6 956.38,470.8 956.77,470.8 957.15,468.6 957.54,470.8 957.92,468.6 958.69,468.6 959.08,470.8 959.46,468.6 961,468.6 961.38,470.8 961.77,470.8 962.15,468.6 967.54,468.6 967.92,470.8 968.31,468.6 972.92,468.6 973.31,470.8 973.69,468.6 994.85,468.6 995.23,466.4 995.62,468.6 998.31,468.6 998.69,466.4 999.08,468.6 1001,468.6 1001.38,466.4 1001.77,468.6 1005.23,468.6 1005.62,466.4 1006,466.4 1006.38,468.6 1009.46,468.6 1009.85,466.4 1010.23,468.6 1011,468.6 1011.38,466.4 1011.77,468.6 1012.15,466.4 1012.54,468.6 1012.92,466.4 1013.31,468.6 1015.62,468.6 1016,466.4 1016.38,468.6 1016.77,466.4 1017.15,468.6 1019.46,468.6 1019.85,466.4 1020.23,468.6 1020.62,468.6 1021,466.4 1021.38,468.6 1021.77,466.4 1022.92,466.4 1023.31,468.6 1023.69,468.6 1024.08,466.4 1024.46,468.6 1024.85,466.4 1025.62,466.4 1026,468.6 1026.38,466.4 1026.77,468.6 1027.15,468.6 1027.54,466.4 1027.92,466.4 1028.31,468.6 1028.69,466.4 1030.23,466.4 1030.62,468.6 1031,466.4 1032.15,466.4 1032.54,468.6 1032.92,466.4 1033.31,468.6 1033.69,466.4 1045.23,466.4 1045.62,468.6 1046,466.4 1051.38,466.4 1051.77,468.6 1052.15,466.4 1054.08,466.4 1054.46,468.6 1054.85,466.4 1057.54,466.4 1057.92,468.6 1058.31,466.4 1062.15,466.4 1062.54,468.6 1062.92,466.4 1080.23,466.4 1080.62,464.2 1081,466.4 1081.38,466.4 1081.77,464.2 1082.15,466.4 1084.08,466.4 1084.46,464.2 1084.85,464.2 1085.23,466.4 1086,466.4 1086.38,464.2 1086.77,466.4 1087.92,466.4 1088.31,464.2 1088.69,466.4 1090.62,466.4 1091,464.2 1091.38,466.4 1094.46,466.4 1094.85,464.2 1095.23,466.4 1096,466.4 1096.38,464.2 1096.77,464.2 1097.15,466.4 1103.31,466.4 1103.69,464.2 1104.08,466.4 1104.46,464.2 1104.85,466.4 1105.08,466.4"/>
<polyline class="tr" style="stroke-width:2.9" points="196.77,576.3 204.85,576.4 205.23,578.6 205.62,576.4 208.69,576.4 209.08,578.6 209.46,576.4 211,576.4 211.38,578.6 211.77,576.4 217.54,576.2 217.92,574.4 231.77,574.2 234.08,574.3 234.46,576.3 235.23,576.3 235.62,574.3 236,576.3 237.92,576.4 238.69,576.9 241.38,581.4 243.31,586.3 247.92,608.5 251.38,621.9 253.69,629.3 254.46,631.1 256.77,635.1 257.92,636.3 258.31,637.3 260.23,638.3 260.62,639.8 261.38,640.1 279.08,640.2 279.46,642.2 279.85,640.5 280.23,641.8 281.77,643.2 289.08,657 289.85,657.6 292.54,658.3 292.92,659.8 296,660.1 296.38,662 296.77,662.1 297.15,660.1 297.54,662.1 306,662.2 306.38,660 306.77,662.2 310.62,662.2 311,660 311.38,662.2 311.77,662.2 312.15,660 312.54,662.2 324.85,662 325.62,662.5 329.46,670.3 330.23,671.1 331,671.4 331.38,672.7 333.69,673.3 336,673.4 336.38,675.3 338.31,675.4 338.69,673.2 339.08,675.4 347.92,675.4 348.31,673.2 348.69,675.4 349.85,675.4 350.23,673.2 350.62,675.4 352.92,675.4 353.31,673.2 353.69,673.2 354.08,675.4 354.46,673.2 354.85,675.4 356,675.4 356.38,673.2 356.77,675.4 357.15,673.2 357.54,675.4 357.92,675.4 358.31,673.2 358.69,675.4 359.85,675.4 360.23,673.2 360.62,675.4 361,673.2 361.38,675.4 362.15,675.4 362.54,673.2 364.08,673.2 364.46,675.4 364.85,673.2 365.23,675.4 365.62,673.3 366,673.5 366.38,675.1 368.31,676.1 368.69,677.1 370.23,678.3 370.62,679.4 373.69,680.3 374.08,681.8 377.15,682.1 377.54,684.1 377.92,682.1 378.31,684.1 378.69,682 379.08,684.2 381.77,684.2 382.15,682 382.54,684.2 382.92,684.2 383.31,682 384.08,682 384.46,684.2 384.85,682 385.23,684.2 385.62,684.2 386,682 386.38,684.2 386.77,682 387.15,684.2 387.54,682 387.92,684.2 388.31,682 388.69,684.2 389.46,684.2 389.85,682 390.23,684.2 390.62,684.2 391,682 391.38,684.2 392.54,684.2 392.92,682 393.69,682 394.08,684.2 394.46,682 394.85,682 395.23,684.2 396.77,684.2 397.15,682 397.54,684.2 398.31,684.2 398.69,682 399.08,684.2 400.23,684.2 400.62,682 401,684.2 401.77,684.2 402.15,682 402.54,682 402.92,684.2 404.08,684.2 404.46,682 404.85,684.2 406.77,684.2 407.15,682 407.54,684.2 410.23,684.1 411,684.8 412.54,687.6 414.08,689.3 414.46,690.3 415.23,690.7 418.69,691 419.08,692.9 424.85,693 425.23,695.2 425.62,693 426,695.2 426.38,695.2 426.77,693 428.31,693 428.69,695.2 429.08,693 433.69,692.8 434.08,691.1 434.46,692.8 434.85,692.7 435.23,690.9 439.46,690.9 440.62,691.3 441,692.6 442.92,693.7 443.31,694.7 444.85,695.7 445.23,696.8 446.77,697.4 449.08,697.5 449.46,699.5 449.85,697.5 450.23,699.5 450.62,697.5 451,699.5 451.38,699.5 451.77,697.5 452.15,699.6 458.69,699.4 459.08,697.7 461.38,697.2 461.77,696 462.15,696.8 462.54,695.7 464.46,694.4 464.85,693.4 466.38,692 467.54,689.6 468.69,686 472.15,672.8 476.77,650.8 478.69,643.2 482.54,634 483.69,632 484.85,631.4 486.38,632 486.77,633.1 488.31,635 491.77,641.7 492.54,642.5 493.69,642.7 494.08,644.3 499.85,644.7 500.23,646.6 500.62,644.8 501,646.6 502.54,646.8 503.31,647.5 505.23,651.9 507.92,659.6 512.15,670.3 513.31,671.5 513.69,673 514.08,673.2 516,673.2 516.38,671 516.77,673.2 519.85,673.2 520.23,671 520.62,673.2 524.08,673.1 525.23,673.4 525.62,673.6 526,674.8 527.54,675.7 527.92,676.7 529.85,678 530.23,679.1 531.77,679.7 534.08,679.8 536,679.1 536.38,677.9 538.31,677.2 538.69,675.8 539.08,676.9 539.46,675.6 541,674.9 541.38,673.8 543.31,673 543.69,671.6 544.08,671.4 544.46,672.9 544.85,671.2 545.62,671 547.92,671.4 548.31,672.9 549.85,673.4 550.23,674.5 550.62,673.8 551,674.9 552.54,675.8 552.92,677 554.46,677.6 557.54,677.7 558.69,676.9 563.31,669.3 564.46,668.7 566.77,668.8 567.54,669 567.92,670.2 569.46,671.2 569.85,672.2 570.23,672 572.15,675.1 573.31,676.1 573.69,677.1 574.85,677.8 575.23,679.2 577.15,679.8 577.54,677.7 577.92,679.6 578.31,679.4 578.69,677.9 581,676.8 581.38,675.7 583.31,674.5 583.69,673.4 585.23,672.8 585.62,671.3 587.54,671 588.69,671.4 589.08,672.8 591,673.9 591.38,674.9 594.08,678.3 595.62,681 597.92,682.5 598.31,683.9 599.85,684.2 601.38,683.8 601.77,682.6 602.15,683.3 602.54,682.2 603.31,681.5 608.31,673.7 609.85,672.7 610.23,671.4 611.38,671 611.77,671 612.15,673 612.54,671.2 612.92,671.4 613.31,672.8 615.23,673.9 615.62,674.9 618.69,678.5 619.08,679.5 620.62,680.5 621,681.7 622.15,682 624.46,682 626,681.3 626.38,680.2 627.92,679.1 628.31,678.1 629.46,677.1 629.85,676.1 631,675.1 631.38,674.1 633.69,672.8 634.08,671.4 635.62,671 636,673.2 636.38,671.1 636.77,671.2 637.15,672.8 637.54,671.5 637.92,672.8 639.46,673.8 639.85,674.8 642.92,678.4 643.31,679.4 644.46,680.3 644.85,681.4 646.38,682 648.69,682 650.23,681.3 650.62,680.2 651.77,679.3 652.15,678.3 653.69,677 654.08,676 655.62,674.8 656,673.7 657.54,673.1 660.23,673.1 661.38,673.7 661.77,674.7 662.92,675.7 666.38,681.2 667.92,682.5 668.31,683.6 669.46,684.2 671.38,684.1 671.77,682.8 672.54,682.6 673.69,681.6 678.31,673.9 679.46,673.1 681.77,673.1 683.69,673.8 684.08,674.9 685.62,676.2 687.54,679.2 688.69,680.4 689.08,681.3 690.62,682.4 691,683.6 691.38,682.7 691.77,684 694.08,684.2 695.62,683.4 696,682.4 697.15,681.2 700.23,676 701.38,674.9 701.77,673.9 702.92,673.3 704.46,673.2 706,673.5 706.38,674.9 706.77,675 707.15,674.1 707.54,675.3 708.69,676 709.08,677.1 710.62,678.3 711,679.2 712.15,680.2 712.54,681.2 712.92,680.7 713.31,681.7 714.46,682.4 714.85,683.6 715.23,682.6 715.62,683.9 719.08,684.1 720.23,683.7 720.62,682.5 722.15,681.3 722.54,680.4 723.69,679 729.85,667.7 731,666.1 733.69,660.6 734.85,659.9 735.23,658.4 735.62,658.3 736,659.7 737.15,659.6 737.54,657.9 740.62,657.7 741,655.8 744.46,655.6 744.85,653.6 745.23,655.6 748.69,655.6 749.08,653.5 749.46,655.6 750.23,655.6 750.62,653.4 751,653.4 751.38,655.6 751.77,655.6 752.15,653.4 754.08,653.4 754.46,655.6 754.85,653.4 757.92,653.4 758.31,655.6 758.69,653.4 761,653.4 761.38,651.2 761.77,651.2 762.15,653.4 764.08,653.4 764.46,651.2 764.85,653.4 773.69,653.4 774.08,651.2 774.46,653.4 774.85,651.2 775.23,653.4 776,653.4 776.38,651.2 777.92,651.2 778.31,653.4 778.69,651.2 779.08,653.4 780.23,653.4 780.62,651.2 781,651.2 781.38,653.4 781.77,651.2 782.15,651.2 782.54,653.4 783.69,653.4 784.08,651.2 784.46,653.4 784.85,651.2 785.23,653.4 785.62,653.4 786,651.2 787.15,651.2 787.54,653.4 787.92,651.2 790.23,651.2 790.62,653.4 791,651.2 791.77,651.2 792.15,653.4 792.54,651.2 812.92,651.2 813.31,649 813.69,649 814.08,651.2 820.62,651.2 821,649 821.38,649 821.77,651.2 822.15,651.2 822.54,649 823.69,649 824.08,651.2 824.46,649 824.85,651.2 825.23,651.2 825.62,649 826,649 826.38,651.2 827.92,651.2 828.31,649 828.69,651.2 829.08,651.2 829.46,649 831.38,649 831.77,651.2 832.15,649 832.54,649 832.92,651.2 833.31,651.2 833.69,649 842.54,649 842.92,651.2 843.31,646.8 843.69,649 851.77,649 852.15,646.8 852.54,649 858.69,649 859.08,646.8 859.85,646.8 860.23,649 860.62,646.8 861,649 861.38,646.8 861.77,649 863.69,649 864.08,646.8 864.46,649 864.85,649 865.23,646.8 865.62,649 866.77,649 867.15,646.8 867.92,646.8 868.31,649 869.08,649 869.46,646.8 869.85,649 870.62,649 871,646.8 871.38,649 871.77,646.8 872.15,649 872.54,646.8 872.92,649 873.31,649 873.69,646.8 874.08,649 874.46,646.8 875.62,646.8 876,649 876.38,646.8 881.77,646.8 882.15,646.8 882.54,649 882.92,646.8 883.31,649 883.69,646.8 884.08,649 884.46,646.8 886.38,646.8 886.77,649 887.15,649 887.54,646.8 887.92,649 888.31,646.8 895.23,646.8 895.62,644.6 896,646.8 906.38,646.8 906.77,644.6 907.15,646.8 907.54,646.8 907.92,644.6 908.31,646.8 909.46,646.8 909.85,644.6 910.23,646.8 911,646.8 911.38,644.6 911.77,646.8 912.54,646.8 912.92,644.6 913.31,646.8 914.08,646.8 914.46,644.6 915.23,644.6 915.62,646.8 916.38,646.8 916.77,644.6 917.15,646.8 917.54,646.8 917.92,644.6 918.31,646.8 918.69,644.6 919.08,644.6 919.46,646.8 919.85,644.6 920.23,646.8 921.38,646.8 921.77,644.6 922.15,644.6 922.54,646.8 922.92,646.8 923.31,644.6 923.69,646.8 924.08,644.6 924.46,646.8 924.85,644.6 926,644.6 926.38,646.8 927.15,646.8 927.54,644.6 928.31,644.6 928.69,646.8 929.08,646.8 929.46,644.6 929.85,644.6 930.23,646.8 930.62,644.6 932.54,644.6 932.92,646.8 933.31,644.6 934.08,644.6 934.46,646.8 934.85,644.6 959.08,644.6 959.46,642.4 959.85,644.6 961.77,644.6 962.15,642.4 962.54,644.6 962.92,642.4 963.31,644.6 964.08,644.6 964.46,642.4 964.85,644.6 965.23,644.6 965.62,642.4 966,642.4 966.38,644.6 969.08,644.6 969.46,642.4 969.85,644.6 970.23,644.6 970.62,642.4 971,644.6 971.38,644.6 971.77,642.4 972.15,644.6 972.54,644.6 972.92,642.4 973.31,642.4 973.69,644.6 974.08,642.4 974.46,644.6 976.38,644.6 976.77,642.4 977.15,644.6 977.54,642.4 979.08,642.4 979.46,644.6 979.85,642.4 980.23,644.6 980.62,642.4 981,644.6 981.38,642.4 982.54,642.4 982.92,644.6 983.31,642.4 985.23,642.4 985.62,644.6 986,642.4 989.85,642.4 990.23,644.6 990.62,642.4 994.46,642.4 994.85,644.6 995.23,642.4 1004.08,642.4 1004.46,640.2 1004.85,642.4 1007.92,642.4 1008.31,644.6 1008.69,642.4 1015.23,642.4 1015.62,640.2 1016,640.2 1016.38,642.4 1016.77,640.2 1017.15,642.4 1024.08,642.4 1024.46,640.2 1024.85,642.4 1027.15,642.4 1027.54,640.2 1027.92,642.4 1028.31,640.2 1028.69,642.4 1029.08,640.2 1029.46,642.4 1030.62,642.4 1031,640.2 1031.38,642.4 1031.77,642.4 1032.15,640.2 1032.92,640.2 1033.31,642.4 1034.85,642.4 1035.23,640.2 1035.62,642.4 1037.15,642.4 1037.54,640.2 1037.92,640.2 1038.31,642.4 1038.69,642.4 1039.08,640.2 1039.46,642.4 1040.23,642.4 1040.62,640.2 1041.77,640.2 1042.15,642.4 1042.54,640.2 1042.92,640.2 1043.31,642.4 1043.69,640.2 1044.46,640.2 1044.85,642.4 1045.23,640.2 1045.62,642.4 1046,642.4 1046.38,640.2 1046.77,642.4 1047.15,640.2 1047.92,640.2 1048.31,642.4 1049.85,642.4 1050.23,640.2 1051,640.2 1051.38,642.4 1052.92,642.4 1053.31,640.2 1053.69,640.2 1054.08,642.4 1054.46,640.2 1054.85,642.4 1055.23,640.2 1055.62,642.4 1056,640.2 1056.77,640.2 1057.15,642.4 1057.54,640.2 1057.92,640.2 1058.31,642.4 1058.69,640.2 1059.46,640.2 1059.85,642.4 1060.23,642.4 1060.62,640.2 1062.54,640.2 1062.92,642.4 1063.31,640.2 1067.15,640.2 1067.54,642.4 1067.92,640.2 1069.85,640.2 1070.23,642.4 1070.62,642.4 1071,640.2 1075.23,640.2 1075.62,642.4 1076,640.2 1079.08,640.2 1079.46,642.4 1079.85,640.2 1092.15,640.2 1092.54,642.4 1092.92,640.2 1095.62,640.2 1096,638 1096.38,640.2 1097.54,640.2 1097.92,638 1098.31,640.2 1103.69,640.2 1104.08,638 1104.46,640.2 1105.08,640.2"/>
<polyline class="tr" style="stroke-width:2.9" points="196.77,748 197.54,748 197.92,750.2 198.31,750.2 198.69,748 199.85,748 200.23,750.2 200.62,748 201.77,748 202.15,750.2 202.54,748 202.92,750.2 203.31,750.2 203.69,748 204.08,750.2 204.46,748 204.85,750.2 205.23,748 205.62,750.2 207.15,750.2 207.54,748 209.08,748 209.46,750.2 209.85,748 210.23,748 210.62,750.2 211,750.2 211.38,748 211.77,750.2 212.15,748 212.54,750.2 213.31,750.2 213.69,748 214.08,750.2 214.46,748 215.23,748 215.62,750.2 216,750.2 216.38,748 216.77,750.2 218.31,750.2 218.69,748 219.08,750.2 219.85,750.2 220.23,748 220.62,748 221,750.2 221.38,748 221.77,750.2 222.15,750.2 222.54,748 222.92,750.2 225.23,750.2 225.62,748 226,750.2 227.54,750.2 227.92,748 228.31,750.2 237.54,750.2 238.31,750.5 239.85,752.9 242.92,760.1 249.08,788.2 253.31,802.6 256,808.4 257.54,810.2 257.92,811.2 259.46,812.3 259.85,813.5 261.38,814 266.77,814 267.15,816.2 267.54,814 267.92,816.2 268.31,814 269.46,814 269.85,816.2 270.23,814 270.62,816.2 271,814 271.38,814 271.77,816.2 272.15,814 272.54,816.2 272.92,814 273.31,814 273.69,816.2 274.08,816.2 274.46,814 274.85,816.2 281,816.4 281.77,817.1 285.62,824.7 287.92,828.1 289.08,830.4 291.38,833.5 292.54,834.1 293.31,834 293.69,835.9 294.08,835.9 294.46,833.9 294.85,835.9 313.69,836 314.08,838.2 314.46,836 323.69,836 324.08,836.2 324.46,837.3 325.23,837.4 327.15,841.3 329.08,844.4 329.85,845.1 331,845.2 331.38,846.8 335.23,847.1 335.62,849.1 336,847.1 336.38,849.1 337.92,849.2 338.31,847 338.69,849.2 339.08,847 339.46,849.2 340.62,849.2 341,847 341.38,849.2 342.92,849.2 343.31,847 343.69,849.2 344.08,849.2 344.46,847 344.85,849.2 345.62,849.2 346,847 346.38,849.2 347.54,849.2 347.92,847 348.31,849.2 348.69,849.2 349.08,847 349.46,849.2 349.85,847 350.23,847 350.62,849.2 351.38,849.2 351.77,847 352.15,847 352.54,849.2 352.92,849.2 353.31,847 353.69,849.2 355.23,849.2 355.62,847 356,849.2 356.38,849.2 356.77,847 357.15,847 357.54,849.2 358.69,849.2 359.08,847 359.46,849.2 359.85,849.2 360.23,847 360.62,847 361,849.2 361.77,849.2 362.15,847 362.54,847 362.92,849.2 363.31,847 363.69,849.2 365.62,849 367.54,850 367.92,851.1 369.46,852 369.85,853.1 371.38,853.9 371.77,855 372.15,854.4 372.54,855.5 374.08,856.4 374.46,857.6 375.62,858 402.92,857.9 403.31,855.9 403.69,857.9 404.08,857.9 404.46,855.8 406.38,855.8 406.77,857.9 407.15,856 407.54,857.6 409.46,858.4 409.85,859.4 411.77,861.2 412.92,863.5 413.31,863.1 413.69,864.2 414.46,864.6 416,864.7 416.38,866.8 416.77,864.6 417.15,866.8 417.54,864.6 419.85,864.6 420.23,866.8 420.62,864.6 421.38,864.6 421.77,866.8 422.15,864.6 422.54,864.6 422.92,866.8 423.31,864.6 426,864.6 426.38,866.8 426.77,866.8 427.15,864.6 427.54,864.6 427.92,866.8 428.31,864.6 428.69,866.8 429.08,866.8 429.46,864.6 429.85,866.8 430.23,864.6 431,864.6 431.38,866.8 432.15,866.8 432.54,864.6 434.08,864.6 434.46,866.8 434.85,864.6 435.23,864.6 435.62,866.8 436,864.6 437.54,864.6 437.92,866.8 438.31,864.6 438.69,866.8 440.62,866.6 442.92,867.6 443.31,868.8 444.46,869.4 444.85,870.5 447.54,871.4 447.92,873.2 448.31,873.3 448.69,871.2 449.08,873.4 451,873.4 451.38,871.2 451.77,873.4 463.31,873.6 464.46,873.9 464.85,875.3 466.77,875.8 467.15,877.3 467.54,876 467.92,876 468.31,877.6 469.46,877.8 474.08,877.5 474.46,875.8 476,875.5 476.77,874.9 478.31,872.2 480.23,867.6 483.31,858.4 491.38,823.5 494.46,812 496,808.1 497.92,804.1 499.46,801.5 500.23,800.8 501,800.6 501.38,798.8 501.77,798.6 502.15,800.7 502.92,800.6 504.08,801.3 507.92,808.1 509.85,814.6 513.31,828.8 514.85,833 516.38,834.3 516.77,835.4 519.46,836.2 519.85,837.8 523.69,838.6 524.08,839.9 526,841.1 530.62,850.7 531.38,851.4 534.08,851.4 534.46,853.5 534.85,851.4 536.38,851.4 536.77,853.6 537.92,853.6 538.31,851.4 538.69,851.6 539.08,853 539.46,851.8 540.62,850.7 541.38,849.4 544.85,849.2 546.38,849.6 546.77,851 548.69,851.6 549.08,852.9 552.54,854 552.92,855.6 556,855.7 556.77,855.2 557.15,854.1 558.69,852.6 564.08,843.2 565.23,842.4 566.77,842.6 567.15,840.5 567.54,842.4 568.31,842.4 569.46,843 569.85,844 570.23,843.7 571.77,846.3 573.31,847.7 573.69,848.7 575.23,849.5 575.62,851 576,849.5 576.38,851.3 576.77,851.4 577.15,849.2 577.54,851.4 577.92,851.3 578.31,849.4 579.85,849.3 581.77,848.6 582.15,847.4 584.08,846.5 584.46,845.3 586.38,844.7 589.85,844.6 590.62,844.9 591.38,845.5 591.77,846.5 592.54,847.3 597.15,855 598.69,856.4 599.08,857.5 600.23,858 602.54,858 603.69,857.5 604.08,856.4 605.62,855.2 606,854.3 607.54,852.8 607.92,851.9 609.46,850.6 609.85,849.6 611.77,849 612.15,847.1 612.54,849.2 612.92,847 613.31,849.1 614.46,849 616,849.8 616.38,850.8 617.92,852.2 618.31,853.1 619.46,854.2 619.85,855.2 621.77,856.5 622.15,857.7 623.31,858 626,857.9 627.15,857.3 627.54,856.2 629.08,854.9 630.62,852.3 632.15,850.7 632.54,849.8 633.69,848.8 634.08,847.8 635.62,847 637.92,846.9 639.46,847.5 639.85,848.6 641.38,850 644.46,855 646,856.4 646.38,857.4 647.15,857.9 649.85,858 651.38,857.4 651.77,856.3 653.31,855.3 653.69,854.3 655.23,853 655.62,852 657.54,850.9 657.92,849.6 660.23,849.2 662.15,849.5 662.54,850.8 664.85,852.1 665.23,853.1 666.38,854.1 666.77,855.1 668.69,856.3 669.08,857.5 670.23,857.9 672.54,858 674.08,857.4 674.46,856.3 676,854.9 678.69,850.3 680.23,848.7 680.62,847.7 681.77,847 684.08,846.9 685.62,847.5 686,848.6 687.54,850 690.62,855 692.15,856.4 692.54,857.5 693.69,858 696,858 696.77,857.7 697.15,856.5 697.54,857.1 697.92,856.8 699.08,854.5 700.62,853 701,852.1 702.92,850.8 703.31,849.5 704.85,849.2 706.77,849.5 707.54,850 707.92,851.1 709.08,852 711,855.1 712.92,857.1 714.08,859.3 714.46,858.8 714.85,859.9 716.38,860.3 716.77,862.3 717.15,860.2 718.69,860.3 719.46,859.9 721.38,857.3 728.31,843.2 729.85,840.8 731.38,839.5 731.77,838.5 732.92,837.7 733.31,836.6 734.46,835.9 734.85,834.7 736.38,833.9 737.92,833.7 738.31,831.7 738.69,833.8 739.08,831.7 739.46,833.8 739.85,833.8 740.23,831.7 741.38,831.6 741.77,833.8 742.54,833.8 742.92,831.6 743.31,833.8 743.69,831.6 745.23,831.6 745.62,833.8 746,831.6 746.38,831.6 746.77,829.4 747.15,831.6 756.38,831.6 756.77,829.4 757.15,831.6 759.85,831.6 760.23,829.4 760.62,831.6 762.15,831.6 762.54,829.4 762.92,831.6 763.31,829.4 763.69,831.6 764.08,829.4 771,829.4 771.38,831.6 771.77,829.4 779.46,829.4 779.85,827.2 780.23,829.4 780.62,827.2 781,829.4 781.38,829.4 781.77,827.2 782.54,827.2 782.92,829.4 783.31,827.2 786,827.2 786.38,829.4 787.15,829.4 787.54,827.2 795.23,827.2 795.62,825 796,827.2 801.38,827.2 801.77,825 802.15,827.2 806,827.2 806.38,825 806.77,827.2 807.54,827.2 807.92,825 808.69,825 809.08,827.2 810.62,827.2 811,825 811.38,825 811.77,827.2 812.15,825 812.54,827.2 812.92,827.2 813.31,825 813.69,827.2 814.08,825 816.38,825 816.77,827.2 817.15,825 817.54,827.2 817.92,827.2 818.31,825 819.46,825 819.85,827.2 820.23,825 820.62,827.2 821,825 826.38,825 826.77,827.2 827.15,825 837.92,825 838.31,822.8 838.69,825 842.15,825 842.54,822.8 842.92,825 845.23,825 845.62,822.8 846,825 847.54,825 847.92,822.8 848.31,825 848.69,822.8 850.23,822.8 850.62,825 851.77,825 852.15,822.8 852.92,822.8 853.31,825 853.69,822.8 854.46,822.8 854.85,825 855.23,822.8 856.77,822.8 857.15,825 857.54,822.8 857.92,825 858.31,825 858.69,822.8 859.08,822.8 859.46,825 859.85,825 860.23,822.8 864.08,822.8 864.46,825 864.85,822.8 865.62,822.8 866,825 866.38,822.8 867.15,822.8 867.54,825 867.92,822.8 868.31,825 868.69,822.8 880.62,822.8 881,820.6 881.38,822.8 886,822.8 886.38,820.6 886.77,820.6 887.15,822.8 889.08,822.8 889.46,820.6 889.85,820.6 890.23,822.8 891,822.8 891.38,820.6 891.77,822.8 894.46,822.8 894.85,820.6 895.23,822.8 895.62,822.8 896,820.6 896.38,822.8 896.77,820.6 897.15,822.8 897.54,822.8 897.92,820.6 898.31,822.8 898.69,820.6 899.08,820.6 899.46,822.8 899.85,820.6 900.62,820.6 901,822.8 901.38,820.6 901.77,820.6 902.15,822.8 902.92,822.8 903.31,820.6 903.69,822.8 904.08,820.6 904.85,820.6 905.23,822.8 905.62,820.6 907.92,820.6 908.31,822.8 908.69,820.6 909.46,820.6 909.85,822.8 910.23,820.6 911,820.6 911.38,822.8 911.77,820.6 926.77,820.6 927.15,818.4 927.54,820.6 929.85,820.6 930.23,818.4 930.62,818.4 931,820.6 933.31,820.6 933.69,818.4 934.08,820.6 935.23,820.6 935.62,818.4 936.38,818.4 936.77,820.6 939.46,820.6 939.85,818.4 940.23,820.6 941.38,820.6 941.77,818.4 942.15,820.6 942.54,818.4 942.92,820.6 943.69,820.6 944.08,818.4 944.46,820.6 944.85,818.4 945.23,820.6 946,820.6 946.38,818.4 946.77,820.6 947.15,820.6 947.54,818.4 947.92,820.6 948.31,818.4 948.69,820.6 949.08,818.4 949.46,820.6 951,820.6 951.38,818.4 951.77,818.4 952.15,820.6 952.54,818.4 952.92,820.6 953.31,818.4 954.08,818.4 954.46,820.6 954.85,820.6 955.23,818.4 955.62,818.4 956,820.6 956.77,820.6 957.15,818.4 958.31,818.4 958.69,820.6 959.08,818.4 959.46,820.6 959.85,820.6 960.23,818.4 961,818.4 961.38,820.6 961.77,820.6 962.15,818.4 963.69,818.4 964.08,820.6 964.46,818.4 969.08,818.4 969.46,820.6 969.85,818.4 970.23,820.6 970.62,818.4 1003.31,818.4 1003.69,816.2 1004.08,818.4 1008.31,818.4 1008.69,816.2 1009.08,818.4 1009.46,816.2 1009.85,818.4 1010.23,818.4 1010.62,816.2 1011,818.4 1012.15,818.4 1012.54,816.2 1012.92,816.2 1013.31,818.4 1013.69,818.4 1014.08,816.2 1014.46,818.4 1015.23,818.4 1015.62,816.2 1016,818.4 1019.85,818.4 1020.23,816.2 1021,816.2 1021.38,818.4 1021.77,816.2 1022.15,818.4 1022.54,816.2 1023.31,816.2 1023.69,818.4 1024.08,818.4 1024.46,816.2 1025.62,816.2 1026,818.4 1026.38,818.4 1026.77,816.2 1027.54,816.2 1027.92,818.4 1028.31,816.2 1028.69,818.4 1029.08,818.4 1029.46,816.2 1030.23,816.2 1030.62,818.4 1031,816.2 1031.38,818.4 1031.77,816.2 1032.15,816.2 1032.54,818.4 1032.92,816.2 1033.31,818.4 1033.69,816.2 1034.85,816.2 1035.23,818.4 1035.62,816.2 1036,818.4 1036.38,816.2 1037.54,816.2 1037.92,818.4 1038.31,816.2 1039.08,816.2 1039.46,818.4 1039.85,816.2 1044.85,816.2 1045.23,818.4 1045.62,818.4 1046,816.2 1049.08,816.2 1049.46,818.4 1049.85,816.2 1050.23,816.2 1050.62,818.4 1051,816.2 1051.38,816.2 1051.77,818.4 1052.15,816.2 1069.08,816.2 1069.46,818.4 1069.85,816.2 1078.31,816.2 1078.69,818.4 1079.08,818.4 1079.46,816.2 1086.77,816.2 1087.15,814 1087.54,816.2 1087.92,816.2 1088.31,814 1088.69,816.2 1096.77,816.2 1097.15,814 1097.54,816.2 1105.08,816.2"/>
<polyline class="tr" style="stroke-width:2.9" points="196.77,924 226.77,924 227.15,926.2 227.54,924 230.23,924 230.62,926.2 231,924 233.31,924 233.69,926.2 234.08,924 234.46,926.2 234.85,926.2 235.23,924 237.15,924 237.54,926 238.69,926 239.85,927.1 242.92,933.3 244.46,939.4 248.31,958.6 251.38,969.8 254.08,977.9 257.54,984.5 257.92,984.5 259.46,987.2 260.23,987.7 264.08,987.9 264.46,990 267.54,990 267.92,987.8 268.31,990 281.38,990.1 281.77,991.8 282.54,991.9 283.31,992.7 287.15,1000.2 288.69,1002 291.77,1007 292.92,1007.8 293.31,1009.1 293.69,1007.9 294.08,1009.6 295.23,1009.8 295.62,1007.6 296,1009.8 297.15,1009.8 297.54,1007.6 297.92,1009.8 324.46,1009.8 325.62,1010.5 331,1020.3 331.77,1020.8 333.69,1021.1 334.08,1022.7 340.62,1023 341,1025.2 341.38,1023 341.77,1025.2 342.15,1023 343.31,1023 343.69,1025.2 344.08,1023 344.46,1025.2 344.85,1025.2 345.23,1023 351.38,1023 351.77,1025.2 352.15,1023 365.23,1023.1 365.62,1023.3 366,1024.7 368.31,1025.8 368.69,1026.9 370.23,1028 370.62,1029.1 372.15,1030 372.54,1031.2 374.08,1031.8 378.69,1031.8 379.08,1033.9 380.23,1034 380.62,1031.8 381,1034 382.15,1034 382.54,1031.8 382.92,1034 385.62,1034 386,1031.8 386.38,1034 386.77,1031.8 387.15,1034 387.92,1034 388.31,1031.8 388.69,1034 391,1034 391.38,1031.8 391.77,1034 392.15,1031.8 392.92,1031.8 393.31,1034 394.08,1034 394.46,1031.8 394.85,1034 395.23,1034 395.62,1031.8 396.77,1031.8 397.15,1034 397.54,1031.8 397.92,1034 398.31,1031.8 401.77,1031.8 402.15,1034 402.54,1031.8 406.77,1031.8 407.15,1034 407.54,1034 407.92,1031.9 408.31,1032.1 408.69,1033.6 410.23,1034.4 412.15,1037.5 413.69,1038.8 414.08,1040 414.46,1038.9 414.85,1040.4 415.62,1040.6 416,1038.4 416.38,1040.6 441,1040.7 441.38,1042.6 442.54,1042.6 444.08,1043.5 444.46,1044.5 446.38,1045.6 446.77,1046.8 447.15,1047 463.69,1047.5 464.08,1049.1 466.77,1049.6 467.15,1051.1 467.92,1051.3 468.31,1049.8 468.69,1051.5 479.08,1051.6 479.46,1053.8 479.85,1053.8 480.23,1051.6 480.62,1051.6 481,1053.8 481.38,1053.8 481.77,1051.6 482.15,1053.8 482.54,1051.6 482.92,1051.6 483.31,1053.8 490.23,1053.9 490.62,1056 491,1053.8 491.38,1053.8 491.77,1056 492.15,1056 492.54,1055.6 492.92,1054.2 493.69,1053.4 495.62,1048.5 497.54,1042.2 498.69,1036.6 502.15,1015.9 504.46,1004.6 506,998.8 507.54,995.2 510.23,990.6 512.54,989.6 512.92,988.2 513.31,988.1 513.69,989.5 514.08,987.9 514.46,987.9 526.38,987.8 527.15,988.3 528.69,992.3 534.85,1011.3 537.92,1018.1 538.69,1018.6 544.08,1018.7 545.62,1019.6 546,1020.6 546.77,1021.3 547.15,1022.2 548.31,1023.6 552.15,1030.5 554.08,1032.7 554.46,1033.6 555.62,1034.4 556,1035.6 557.54,1036.2 558.69,1035.9 559.08,1034.5 561,1033.3 561.38,1032.4 564.08,1029 564.46,1028 565.62,1027.1 566,1025.9 566.38,1026.8 566.77,1025.5 567.15,1025.3 569.46,1025.3 569.85,1027.1 570.23,1027.1 570.62,1025.6 571,1027.1 573.69,1027.7 574.08,1029.2 576.77,1029.6 578.31,1029.1 579.85,1026.5 580.23,1026.6 585.62,1016.9 587.15,1015.9 587.54,1014.5 588.31,1014.2 589.08,1014.4 589.46,1016 590.23,1016.1 591.38,1016.9 592.15,1018.2 593.31,1019.3 595.23,1023.1 599.08,1033.2 600.23,1035.4 601,1036.1 601.38,1034 601.77,1036.2 602.54,1035.9 602.92,1034.4 603.31,1034.4 603.69,1035.3 604.08,1034.1 605.23,1033.3 606.77,1030.6 607.15,1030.9 607.54,1029.9 608.69,1029 609.08,1028 610.23,1027.2 610.62,1026 611,1025.7 611.38,1027.1 611.77,1027.1 612.15,1025.3 612.54,1025.2 612.92,1025.2 613.31,1027.3 613.69,1027.2 614.08,1025.4 614.46,1027.1 614.85,1025.7 615.23,1027.1 617.15,1027.9 617.54,1029 619.08,1029.9 619.46,1031 622.15,1032.1 622.54,1033.7 624.46,1034 624.85,1031.9 625.23,1032.1 625.62,1033.6 626,1032.2 627.92,1031.1 628.31,1030.1 631,1026.5 634.08,1021.4 635.23,1020.4 635.62,1019.3 637.15,1018.6 639.08,1018.5 640.23,1019.2 641.77,1021.7 645.23,1029 646.77,1031.4 647.54,1032 651,1031.7 651.38,1031.5 651.77,1030.4 652.15,1031 652.54,1029.9 653.69,1029 654.08,1028 655.62,1026.8 656,1025.8 657.54,1024.8 657.92,1023.6 659.08,1023.1 660.62,1023 661.77,1023.3 662.15,1024.6 662.54,1023.7 662.92,1024.9 664.08,1025.7 664.46,1026.7 666,1028.1 666.38,1029 667.54,1030.1 667.92,1031.1 669.46,1032 670.62,1032.1 671,1033.9 672.54,1033.9 673.31,1033.5 673.69,1032.1 675.62,1031 676,1030 677.15,1028.9 679.08,1025.9 680.62,1024.5 681,1023.5 682.54,1022.7 684.46,1023 684.85,1020.8 685.23,1020.9 685.62,1022.7 686.77,1022.8 687.92,1023.6 688.31,1024.5 691.38,1028.2 691.77,1029.1 692.92,1030.1 693.31,1031.1 693.69,1030.4 694.08,1031.6 694.85,1031.8 697.54,1031.8 698.69,1031.4 699.08,1030.2 701,1029 701.38,1028 703.31,1026.5 703.69,1025.5 704.85,1024.8 705.23,1023.6 705.62,1024.7 706,1023.2 708.31,1023.1 708.69,1024.6 709.08,1023.4 709.46,1024.6 711.38,1026.1 714.08,1030.8 715.62,1032.6 716,1033.5 716.77,1034.2 717.15,1035.3 717.54,1034.5 717.92,1035.8 718.31,1036 718.69,1034.1 719.08,1036.2 719.46,1036.2 719.85,1036.1 720.23,1034.2 721.77,1034.2 723.31,1033.5 723.69,1032.4 724.85,1031.3 729.08,1017 731.38,1013.9 731.77,1012.9 733.31,1011.8 733.69,1010.7 734.08,1011.4 734.46,1010.2 735.62,1009.8 736,1008.4 736.38,1009.6 736.77,1008.1 737.15,1009.5 737.54,1007.9 742.54,1007.5 742.92,1005.6 743.31,1007.5 744.08,1007.5 744.46,1005.5 746.38,1005.4 746.77,1007.5 747.15,1005.4 748.69,1005.4 749.08,1003.3 749.46,1005.4 749.85,1005.4 750.23,1003.3 750.62,1005.4 752.92,1005.4 753.31,1003.2 753.69,1005.4 754.08,1003.2 754.46,1005.4 754.85,1005.4 755.23,1003.2 755.62,1003.2 756,1005.4 756.38,1003.2 756.77,1005.4 757.15,1005.4 757.54,1003.2 760.62,1003.2 761,1005.4 761.38,1003.2 761.77,1005.4 762.15,1003.2 771.77,1003.2 772.15,1001 772.54,1003.2 773.69,1003.2 774.08,1001 774.46,1003.2 776,1003.2 776.38,1001 776.77,1003.2 777.15,1003.2 777.54,1001 777.92,1003.2 780.62,1003.2 781,1001 781.38,1003.2 781.77,1001 782.54,1001 782.92,1003.2 783.31,1003.2 783.69,1001 784.85,1001 785.23,1003.2 786.77,1003.2 787.15,1001 787.54,1003.2 787.92,1003.2 788.31,1001 788.69,1003.2 789.08,1003.2 789.46,1001 789.85,1003.2 790.23,1001 790.62,1003.2 791,1001 792.92,1001 793.31,1003.2 793.69,1003.2 794.08,1001 795.62,1001 796,1003.2 796.38,1001 800.23,1001 800.62,1003.2 801,1001 815.23,1001 815.62,998.8 816,1001 816.77,1001 817.15,998.8 817.54,1001 818.31,1001 818.69,998.8 819.46,998.8 819.85,1001 820.23,1001 820.62,998.8 821,1001 821.38,998.8 822.15,998.8 822.54,1001 822.92,998.8 823.31,1001 823.69,1001 824.08,998.8 831.77,998.8 832.15,1001 832.54,998.8 846.77,998.8 847.15,996.6 847.54,998.8 848.69,998.8 849.08,996.6 849.46,998.8 849.85,998.8 850.23,996.6 851,996.6 851.38,998.8 854.46,998.8 854.85,996.6 857.54,996.6 857.92,998.8 858.31,998.8 858.69,996.6 859.85,996.6 860.23,998.8 860.62,996.6 862.15,996.6 862.54,998.8 862.92,996.6 865.62,996.6 866,998.8 866.38,996.6 866.77,996.6 867.15,998.8 867.54,996.6 887.54,996.6 887.92,994.4 888.31,996.6 891.38,996.6 891.77,994.4 892.15,994.4 892.54,996.6 893.31,996.6 893.69,994.4 894.08,996.6 894.46,996.6 894.85,994.4 895.23,996.6 898.69,996.6 899.08,994.4 899.46,996.6 900.23,996.6 900.62,994.4 901,996.6 902.54,996.6 902.92,994.4 903.31,996.6 903.69,994.4 904.08,996.6 906.77,996.6 907.15,994.4 907.54,996.6 908.69,996.6 909.08,994.4 909.46,994.4 909.85,996.6 910.23,994.4 910.62,996.6 911,994.4 913.31,994.4 913.69,996.6 914.08,994.4 914.85,994.4 915.23,996.6 916.38,996.6 916.77,994.4 917.54,994.4 917.92,996.6 918.31,994.4 919.08,994.4 919.46,996.6 919.85,994.4 920.23,996.6 920.62,994.4 921,996.6 921.38,994.4 923.69,994.4 924.08,996.6 924.46,994.4 924.85,996.6 925.23,994.4 927.92,994.4 928.31,996.6 928.69,994.4 937.54,994.4 937.92,996.6 938.31,994.4 940.62,994.4 941,996.6 941.38,994.4 946.77,994.4 947.15,992.2 947.54,994.4 947.92,994.4 948.31,992.2 948.69,994.4 949.46,994.4 949.85,992.2 950.23,994.4 950.62,992.2 951,994.4 957.15,994.4 957.54,992.2 957.92,992.2 958.31,994.4 960.62,994.4 961,992.2 961.38,994.4 961.77,992.2 962.15,994.4 962.92,994.4 963.31,992.2 963.69,994.4 966,994.4 966.38,992.2 966.77,992.2 967.15,994.4 967.54,992.2 967.92,994.4 968.69,994.4 969.08,992.2 969.46,994.4 972.15,994.4 972.54,992.2 972.92,994.4 973.31,992.2 974.46,992.2 974.85,994.4 975.23,992.2 976,992.2 976.38,994.4 976.77,992.2 977.15,994.4 978.69,994.4 979.08,992.2 979.46,994.4 980.62,994.4 981,992.2 981.38,992.2 981.77,994.4 982.15,994.4 982.54,992.2 982.92,992.2 983.31,994.4 983.69,994.4 984.08,992.2 986.38,992.2 986.77,994.4 987.15,992.2 990.23,992.2 990.62,994.4 991,992.2 996.77,992.2 997.15,994.4 997.54,992.2 1001,992.2 1001.38,994.4 1001.77,992.2 1008.31,992.2 1008.69,994.4 1009.08,992.2 1020.23,992.2 1020.62,990 1021,992.2 1034.85,992.2 1035.23,990 1035.62,992.2 1036,992.2 1036.38,990 1036.77,992.2 1042.54,992.2 1042.92,990 1043.31,992.2 1043.69,990 1044.08,992.2 1044.85,992.2 1045.23,990 1045.62,992.2 1046,990 1046.38,992.2 1046.77,990 1047.15,992.2 1047.54,990 1047.92,992.2 1048.31,992.2 1048.69,990 1049.08,992.2 1050.62,992.2 1051,990 1051.77,990 1052.15,992.2 1052.54,990 1052.92,992.2 1053.69,992.2 1054.08,990 1054.85,990 1055.23,992.2 1055.62,990 1056,990 1056.38,992.2 1056.77,990 1057.92,990 1058.31,992.2 1059.08,992.2 1059.46,990 1059.85,992.2 1060.23,990 1060.62,992.2 1061.38,992.2 1061.77,990 1062.92,990 1063.31,992.2 1064.08,992.2 1064.46,990 1064.85,992.2 1065.23,990 1066,990 1066.38,992.2 1066.77,992.2 1067.15,990 1067.92,990 1068.31,992.2 1069.08,992.2 1069.46,990 1070.23,990 1070.62,992.2 1071.38,992.2 1071.77,990 1073.31,990 1073.69,992.2 1074.08,992.2 1074.46,990 1074.85,990 1075.23,992.2 1075.62,992.2 1076,990 1076.38,990 1076.77,992.2 1077.15,990 1078.31,990 1078.69,992.2 1079.08,990 1083.31,990 1083.69,992.2 1084.08,990 1087.92,990 1088.31,992.2 1088.69,990 1090.23,990 1090.62,992.2 1091,990 1105.08,990"/>
<polyline class="tr" points="196.77,1100 197.54,1100 197.92,1097.8 198.31,1100 198.69,1097.8 199.08,1100 200.62,1100 201,1097.8 201.38,1100 202.92,1100 203.31,1097.8 203.69,1100 204.08,1097.8 204.46,1100 204.85,1097.8 205.23,1100 205.62,1097.8 206.38,1097.8 206.77,1100 207.15,1097.8 207.54,1100 208.31,1100 208.69,1097.8 209.08,1100 209.46,1097.8 209.85,1100 213.31,1100 213.69,1097.8 214.08,1100 215.62,1100 216,1097.8 216.38,1100 216.77,1097.8 217.15,1100 217.54,1097.8 217.92,1100 221.38,1100 221.77,1097.8 222.15,1100 222.92,1100 223.31,1097.8 223.69,1100 224.08,1097.8 224.46,1100 225.23,1100 225.62,1097.8 226,1100 228.31,1100 228.69,1097.8 229.08,1100 236.38,1100 236.77,1097.8 237.15,1100 239.08,1099.8 239.85,1100.2 241.38,1102.8 243.69,1108.7 247.92,1131.6 250.23,1140.6 254.08,1151.8 258.69,1161.1 259.46,1161.7 261.38,1161.7 261.77,1163.7 262.15,1163.7 262.54,1161.7 262.92,1163.8 263.31,1161.7 263.69,1163.8 279.46,1163.9 279.85,1165.9 280.23,1165.9 280.62,1164 281,1164.2 281.38,1165.6 282.54,1166.5 287.54,1176.3 288.69,1177.4 289.08,1178.4 290.62,1179.4 291,1180.5 293.31,1181.7 293.69,1183 296,1183.6 304.46,1183.6 304.85,1185.8 305.23,1183.6 307.92,1183.6 308.31,1185.8 308.69,1183.6 311.77,1183.6 312.15,1185.8 312.54,1183.6 313.69,1183.6 314.08,1185.8 314.46,1183.6 314.85,1185.8 315.23,1183.6 317.15,1183.6 317.54,1185.8 317.92,1183.6 319.08,1183.6 319.46,1185.8 319.85,1183.6 320.23,1185.8 320.62,1183.6 321,1183.6 321.38,1185.8 321.77,1183.6 322.15,1183.6 322.54,1185.8 322.92,1183.6 323.31,1185.8 324.08,1185.8 324.46,1183.6 324.85,1183.6 325.23,1185.8 326.38,1185.6 327.15,1186.5 330.23,1193.7 331,1194.9 331.77,1195.2 332.15,1196.6 337.54,1196.9 337.92,1198.9 338.31,1196.9 338.69,1196.8 339.08,1199 344.08,1199 344.46,1196.8 344.85,1199 346.38,1199 346.77,1196.8 347.15,1199 347.54,1196.8 347.92,1199 348.31,1199 348.69,1196.8 349.08,1196.8 349.46,1199 352.15,1199 352.54,1196.8 352.92,1199 353.31,1199 353.69,1196.8 354.08,1199 356,1199 356.38,1196.8 356.77,1196.8 357.15,1199 357.54,1196.8 362.54,1196.8 362.92,1199 363.31,1196.8 366,1196.8 366.38,1199 366.77,1196.9 367.15,1198.6 367.92,1198.6 369.08,1199.7 372.15,1205.1 373.31,1205.9 375.23,1205.6 375.62,1207.8 376,1205.6 376.38,1205.6 376.77,1207.8 377.15,1207.8 377.54,1205.6 377.92,1207.8 378.31,1207.8 378.69,1205.6 379.08,1207.8 381,1207.8 381.38,1205.6 381.77,1207.8 382.15,1205.6 382.54,1207.8 382.92,1205.6 383.31,1207.8 383.69,1207.8 384.08,1205.6 384.46,1207.8 386.38,1207.8 386.77,1205.6 387.15,1205.6 387.54,1207.8 389.08,1207.8 389.46,1205.6 389.85,1207.8 393.31,1207.8 393.69,1205.6 394.08,1207.8 410.62,1207.8 412.15,1208.8 413.69,1211.6 414.85,1212.8 415.23,1213.8 416,1214.3 429.85,1214.4 430.23,1216.6 430.62,1214.4 432.92,1214.4 433.31,1216.6 433.69,1214.4 436.38,1214.4 436.77,1216.6 437.15,1214.4 437.54,1214.4 437.92,1216.6 438.31,1216.6 438.69,1214.5 439.08,1214.5 439.46,1216.5 442.92,1217.1 443.31,1218.5 444.85,1218.9 445.23,1220.3 445.62,1219.1 446,1219.2 446.38,1220.7 453.31,1221 453.69,1223.2 454.08,1221 456,1221 456.38,1223.2 456.77,1221 457.15,1221 457.54,1223.2 457.92,1223.2 458.31,1221 458.69,1221 459.08,1223.2 459.46,1223.2 459.85,1221 460.23,1223.2 465.23,1223.3 465.62,1225.1 466,1223.4 466.38,1223.4 466.77,1225.2 473.31,1225.4 473.69,1227.6 474.08,1227.6 474.46,1225.4 475.23,1225.4 475.62,1227.6 476.38,1227.6 476.77,1225.4 477.15,1227.6 477.54,1225.4 477.92,1227.6 478.69,1227.6 479.08,1225.4 479.46,1227.6 484.85,1227.6 486.38,1228 486.77,1229.3 489.46,1230.3 489.85,1231.6 491.38,1232 496,1232 496.38,1234.2 496.77,1232 497.15,1232 497.54,1234.2 498.31,1234.2 498.69,1232 499.08,1234.2 499.85,1234.2 500.23,1232 500.62,1234.2 510.62,1234.1 511,1232.7 511.38,1233.7 511.77,1232.6 512.92,1231.4 514.85,1227.3 515.62,1225.2 516.77,1219.1 519.46,1200 522.15,1177.9 524.46,1164 526.38,1155.7 528.69,1151 529.46,1150.6 532.54,1150.7 532.92,1152.6 533.31,1150.9 533.69,1151.3 534.08,1152.5 534.85,1153.2 542.15,1166.7 545.62,1175.4 550.62,1194.3 555.62,1211.7 557.15,1215.7 558.69,1218.4 559.85,1219.5 560.23,1220.6 561,1221 561.77,1220.3 562.92,1217.9 566.77,1206.2 572.92,1193.4 574.46,1191.7 574.85,1190.7 576,1189.7 576.38,1188.7 577.92,1187.6 578.31,1186.5 580.62,1185.3 581,1184.1 585.23,1183.4 585.62,1181.6 586,1181.5 586.38,1183.4 586.77,1181.5 589.85,1181.4 590.62,1182.1 592.15,1186.1 595.62,1198.6 598.69,1207.2 600.62,1211.4 601.38,1212.1 601.77,1210.3 602.15,1212.2 606.77,1212.3 607.54,1212 609.08,1209.5 611.38,1204.5 613.69,1201.3 616.77,1201.4 617.15,1203.2 617.54,1201.5 617.92,1203.2 621.77,1203.6 622.15,1205.4 624.85,1205.5 625.23,1203.8 626.38,1203.6 627.54,1202.4 631.38,1195.6 632.92,1194.3 634.08,1194.4 634.46,1192.4 634.85,1194.6 635.23,1192.5 635.62,1194.5 636,1194.4 636.38,1192.7 636.77,1194.4 639.46,1195.2 639.85,1196.4 641,1197.5 641.77,1199.1 646,1209.6 647.15,1211.7 647.92,1212.2 650.62,1212.1 651,1210.8 651.38,1211.7 651.77,1210.6 653.69,1209.1 654.08,1208.2 655.23,1207.1 655.62,1206.1 657.15,1204.8 657.54,1203.8 658.69,1203.1 659.08,1201.9 660.62,1201.3 662.54,1201.3 662.92,1203.1 663.31,1201.4 663.69,1203 666.77,1204 667.15,1205.2 669.46,1205.9 669.85,1207.5 671.77,1207.8 672.92,1207.5 673.31,1207.3 673.69,1206 675.62,1204.6 677.15,1201.9 679.85,1198.5 680.23,1197.5 681.38,1196.7 682.54,1196.7 682.92,1194.7 683.31,1196.8 684.46,1196.6 685.62,1197 686,1198.1 687.54,1199.4 691,1204.9 692.54,1206.1 692.92,1207.3 694.46,1207.8 696.38,1207.5 696.77,1206.2 698.69,1205 699.08,1204.1 700.23,1203 700.62,1202 702.15,1200.6 702.54,1199.6 704.08,1198.6 704.46,1197.3 706,1196.8 707.92,1197 708.31,1198.6 711,1199.6 711.38,1200.7 712.92,1201.6 713.31,1202.6 714.85,1204.6 717.15,1209.2 717.92,1210 718.69,1210.1 719.08,1212.2 719.46,1210 721.38,1209.7 721.77,1208.6 723.31,1207.2 730.23,1195.2 733.31,1191.5 734.46,1189.2 734.85,1189.3 736,1187 738.31,1185.2 738.69,1184.1 740.62,1183.6 741,1181.5 741.38,1183.6 742.92,1183.6 743.31,1181.5 744.08,1181.4 744.46,1183.6 745.62,1183.6 746,1181.4 746.38,1183.6 746.77,1181.4 747.15,1183.6 747.54,1181.4 749.85,1181.4 750.23,1183.6 750.62,1181.4 751,1183.6 751.38,1183.6 751.77,1181.4 764.46,1181.4 764.85,1179.2 765.23,1181.4 766.38,1181.4 766.77,1179.2 767.15,1179.2 767.54,1181.4 767.92,1181.4 768.31,1179.2 770.62,1179.2 771,1181.4 771.38,1179.2 772.15,1179.2 772.54,1181.4 772.92,1179.2 779.08,1179.2 779.46,1177 779.85,1179.2 782.54,1179.2 782.92,1177 783.31,1179.2 784.46,1179.2 784.85,1177 785.23,1179.2 785.62,1177 786,1179.2 786.38,1177 786.77,1179.2 787.15,1177 787.54,1177 787.92,1179.2 788.31,1177 792.54,1177 792.92,1179.2 793.31,1177 807.92,1177 808.31,1174.8 808.69,1177 809.46,1177 809.85,1174.8 810.23,1177 812.15,1177 812.54,1174.8 812.92,1177 813.31,1174.8 813.69,1177 814.85,1177 815.23,1174.8 815.62,1177 816,1177 816.38,1174.8 816.77,1177 818.31,1177 818.69,1174.8 819.08,1177 819.85,1177 820.23,1174.8 820.62,1177 821,1174.8 821.38,1177 821.77,1174.8 822.15,1177 824.46,1177 824.85,1174.8 825.23,1174.8 825.62,1177 826,1174.8 826.77,1174.8 827.15,1177 827.54,1177 827.92,1174.8 828.31,1174.8 828.69,1177 829.85,1177 830.23,1174.8 830.62,1177 831,1174.8 831.38,1177 832.15,1177 832.54,1174.8 832.92,1174.8 833.31,1177 833.69,1174.8 834.85,1174.8 835.23,1177 835.62,1177 836,1174.8 838.69,1174.8 839.08,1177 839.46,1174.8 840.62,1174.8 841,1177 841.38,1174.8 842.54,1174.8 842.92,1177 843.31,1174.8 846.38,1174.8 846.77,1172.6 847.15,1174.8 851.38,1174.8 851.77,1172.6 852.15,1174.8 854.46,1174.8 854.85,1172.6 855.23,1174.8 858.69,1174.8 859.08,1172.6 860.23,1172.6 860.62,1174.8 861,1172.6 862.15,1172.6 862.54,1174.8 862.92,1172.6 863.31,1174.8 863.69,1174.8 864.08,1172.6 864.46,1174.8 864.85,1172.6 866.77,1172.6 867.15,1174.8 867.54,1172.6 869.85,1172.6 870.23,1174.8 870.62,1172.6 876.38,1172.6 876.77,1170.4 877.15,1172.6 877.92,1172.6 878.31,1170.4 878.69,1172.6 879.08,1170.4 879.46,1172.6 879.85,1172.6 880.23,1170.4 880.62,1170.4 881,1172.6 881.38,1170.4 881.77,1170.4 882.15,1172.6 884.08,1172.6 884.46,1170.4 884.85,1172.6 885.23,1170.4 887.15,1170.4 887.54,1172.6 888.69,1172.6 889.08,1170.4 895.23,1170.4 895.62,1172.6 896.38,1172.6 896.77,1170.4 909.85,1170.4 910.23,1172.6 910.62,1170.4 911.38,1170.4 911.77,1172.6 912.15,1172.6 912.54,1170.4 913.31,1170.4 913.69,1172.6 914.08,1170.4 919.46,1170.4 919.85,1172.6 920.23,1170.4 920.62,1170.4 921,1172.6 921.38,1170.4 922.15,1170.4 922.54,1172.6 922.92,1170.4 925.23,1170.4 925.62,1172.6 926,1170.4 927.92,1170.4 928.31,1172.6 928.69,1170.4 932.54,1170.4 932.92,1172.6 933.31,1170.4 933.69,1172.6 934.08,1172.6 934.46,1170.4 937.92,1170.4 938.31,1172.6 938.69,1170.4 956.77,1170.4 957.15,1168.2 957.54,1170.4 957.92,1170.4 958.31,1168.2 958.69,1168.2 959.08,1170.4 960.23,1170.4 960.62,1168.2 961,1170.4 962.54,1170.4 962.92,1168.2 963.31,1170.4 964.08,1170.4 964.46,1168.2 964.85,1168.2 965.23,1170.4 966,1170.4 966.38,1168.2 968.69,1168.2 969.08,1170.4 969.46,1170.4 969.85,1168.2 970.23,1168.2 970.62,1170.4 971,1168.2 972.54,1168.2 972.92,1170.4 973.31,1168.2 974.46,1168.2 974.85,1170.4 975.23,1168.2 975.62,1168.2 976,1170.4 976.38,1168.2 986,1168.2 986.38,1166 986.77,1168.2 991.38,1168.2 991.77,1166 992.15,1168.2 994.85,1168.2 995.23,1166 996,1166 996.38,1168.2 997.92,1168.2 998.31,1166 998.69,1168.2 1002.15,1168.2 1002.54,1166 1003.31,1166 1003.69,1168.2 1004.46,1168.2 1004.85,1170.4 1005.23,1166 1005.62,1166 1006,1168.2 1006.38,1168.2 1006.77,1166 1007.15,1168.2 1008.69,1168.2 1009.08,1166 1010.23,1166 1010.62,1168.2 1011,1166 1011.77,1166 1012.15,1168.2 1012.54,1166 1012.92,1166 1013.31,1168.2 1013.69,1166 1014.08,1168.2 1014.46,1166 1016.38,1166 1016.77,1168.2 1017.15,1168.2 1017.54,1166 1017.92,1168.2 1018.31,1166 1019.46,1166 1019.85,1168.2 1020.23,1166 1020.62,1168.2 1021,1166 1022.54,1166 1022.92,1168.2 1023.31,1166 1023.69,1168.2 1024.46,1168.2 1024.85,1166 1025.23,1166 1025.62,1168.2 1026,1166 1026.38,1166 1026.77,1168.2 1027.15,1166 1029.46,1166 1029.85,1168.2 1030.23,1168.2 1030.62,1166 1034.46,1166 1034.85,1168.2 1035.23,1166 1047.92,1166 1048.31,1168.2 1048.69,1166 1060.62,1166 1061,1163.8 1061.38,1166 1065.23,1166 1065.62,1163.8 1066,1166 1066.38,1166 1066.77,1163.8 1067.15,1166 1067.54,1166 1067.92,1163.8 1068.31,1166 1071.77,1166 1072.15,1163.8 1072.54,1166 1076.38,1166 1076.77,1163.8 1077.15,1163.8 1077.54,1166 1079.08,1166 1079.46,1163.8 1079.85,1166 1081,1166 1081.38,1163.8 1081.77,1166 1082.92,1166 1083.31,1163.8 1083.69,1166 1084.85,1166 1085.23,1163.8 1085.62,1166 1087.15,1166 1087.54,1163.8 1087.92,1166 1088.69,1166 1089.08,1163.8 1089.46,1163.8 1089.85,1166 1090.23,1163.8 1090.62,1166 1091,1163.8 1091.38,1166 1091.77,1163.8 1092.15,1166 1092.54,1166 1092.92,1163.8 1093.31,1166 1093.69,1166 1094.08,1163.8 1094.46,1163.8 1094.85,1166 1095.23,1166 1095.62,1163.8 1096,1166 1096.38,1166 1096.77,1163.8 1097.15,1166 1098.31,1166 1098.69,1163.8 1099.08,1166 1099.46,1163.8 1099.85,1163.8 1100.23,1166 1100.62,1163.8 1101,1166 1101.38,1163.8 1101.77,1166 1102.54,1166 1102.92,1163.8 1103.31,1166 1103.69,1163.8 1104.08,1163.8 1104.46,1166 1104.85,1163.8 1105.08,1163.8"/>
<polyline class="tr" style="stroke-width:2.9" points="196.77,1273.8 201.38,1273.8 201.77,1271.6 202.15,1273.8 203.69,1273.8 204.08,1271.6 204.46,1273.8 210.23,1273.8 210.62,1271.6 211,1273.8 212.54,1273.8 212.92,1271.6 213.31,1273.8 213.69,1271.6 214.08,1271.6 214.46,1273.8 214.85,1271.6 215.62,1271.6 216,1273.8 216.38,1273.8 216.77,1271.6 217.15,1271.6 217.54,1273.8 217.92,1271.6 219.08,1271.6 219.46,1273.8 219.85,1271.6 220.23,1273.8 220.62,1273.8 221,1271.6 221.38,1271.6 221.77,1273.8 222.92,1273.8 223.31,1271.6 223.69,1273.8 224.08,1273.8 224.46,1271.6 224.85,1273.8 225.23,1273.8 225.62,1271.6 226,1271.6 226.38,1273.8 226.77,1271.6 227.15,1271.6 227.54,1273.8 227.92,1271.6 228.31,1273.8 229.85,1273.8 230.23,1271.6 230.62,1273.8 231.77,1273.8 232.15,1271.6 232.54,1271.6 232.92,1273.8 233.31,1273.8 233.69,1271.6 234.85,1271.6 235.23,1273.8 235.62,1271.6 236,1273.8 236.38,1271.6 236.77,1271.6 237.15,1273.8 237.54,1271.6 238.31,1271.6 238.69,1273.7 239.08,1272.1 239.46,1273.4 240.23,1274.1 241.38,1276.3 244.08,1283.2 248.31,1303.4 253.31,1321.8 256.38,1329.8 259.08,1334.8 259.85,1335.4 262.54,1335.5 262.92,1337.5 263.31,1335.5 263.69,1337.5 270.23,1337.6 270.62,1339.7 271,1337.6 272.54,1337.7 272.92,1339.7 274.08,1339.7 274.46,1337.7 274.85,1339.8 280.23,1339.9 282.15,1340.4 286.77,1349.7 289.46,1353.3 289.85,1354.2 291.38,1355.6 291.77,1356.7 292.54,1357.2 305.23,1357.4 305.62,1359.6 306,1357.4 310.62,1357.4 311,1359.6 311.38,1357.4 312.54,1357.4 312.92,1359.6 313.31,1359.6 313.69,1357.4 314.08,1359.6 314.46,1359.6 314.85,1357.4 315.23,1357.4 315.62,1359.6 316,1357.4 316.38,1357.4 316.77,1359.6 317.15,1357.4 317.54,1357.4 317.92,1359.6 319.08,1359.6 319.46,1357.4 319.85,1357.4 320.23,1359.6 320.62,1359.6 321,1357.4 321.38,1359.6 324.85,1359.6 325.62,1360.1 327.15,1362.7 329.46,1367.7 331,1370.3 332.54,1370.7 332.92,1372.5 333.31,1370.8 333.69,1372.6 335.62,1372.7 366.77,1372.9 367.92,1373.4 368.31,1374.6 369.85,1375.7 370.23,1376.7 371.38,1377.6 371.77,1378.6 373.69,1379.7 374.08,1381.1 375.23,1381.6 410.23,1381.6 411.38,1382.2 411.77,1383.4 413.31,1384.5 413.69,1385.5 414.85,1386.5 415.23,1387.5 416.38,1388.2 417.92,1388.2 418.31,1390.4 418.69,1388.2 419.85,1388.2 420.23,1390.4 420.62,1388.2 421.38,1388.2 421.77,1390.4 422.15,1388.2 422.54,1388.2 422.92,1390.4 423.69,1390.4 424.08,1388.2 424.46,1388.2 424.85,1390.4 425.23,1388.2 425.62,1390.4 426,1390.4 426.38,1388.2 426.77,1388.2 427.15,1390.4 427.54,1388.2 427.92,1390.4 429.85,1390.4 430.23,1388.2 430.62,1388.2 431,1390.4 431.77,1390.4 434.46,1390.4 434.85,1388.2 435.23,1390.4 435.62,1388.2 436,1390.4 436.38,1390.4 436.77,1388.2 437.15,1388.2 437.54,1390.4 442.15,1390.4 444.08,1391 444.46,1392.2 446.38,1392.9 446.77,1394.3 447.54,1394.6 459.46,1394.8 461.77,1395.2 462.15,1396.7 465.23,1397.5 465.62,1398.9 467.54,1399.3 471,1399.2 471.38,1401.4 472.54,1401.4 472.92,1399.2 473.31,1399.2 473.69,1401.4 474.08,1401.4 474.46,1399.2 474.85,1401.4 476.77,1401.4 477.15,1399.2 477.54,1399.2 477.92,1401.4 482.92,1401.4 484.85,1401.7 485.23,1403.1 487.54,1403.8 487.92,1405.1 488.31,1404.1 488.69,1405.4 491.77,1405.9 492.15,1407.9 492.54,1405.9 493.69,1405.8 494.08,1408 494.46,1408 494.85,1405.8 495.23,1408 495.62,1405.8 496,1408 506.38,1408.3 506.77,1409.8 508.69,1410.3 509.08,1411.5 509.85,1411.8 510.23,1411 510.62,1412.2 511.77,1412.6 512.15,1414 512.54,1412.8 512.92,1412.8 513.31,1414.4 514.46,1414.6 520.23,1414.6 520.62,1412.5 521.38,1412.5 521.77,1414.5 522.15,1414.5 522.54,1412.5 523.69,1412.6 524.85,1411.6 528.31,1404 530.62,1393.7 533.31,1376.9 537.54,1339.7 540.23,1322.9 541.38,1317.6 542.54,1314.4 544.08,1311.8 545.23,1310.9 545.62,1309.6 546,1310.9 546.38,1309.1 546.77,1309.1 547.15,1310.6 547.54,1310.8 548.31,1312 552.15,1324.9 557.54,1353.9 558.69,1359 560.23,1364 566.77,1380.2 571.38,1393.9 572.92,1396.6 574.85,1397.5 575.23,1398.9 575.62,1397.4 576,1399.1 576.77,1399.2 577.54,1398.5 578.31,1396.3 581,1383.4 584.08,1355.4 587.15,1335.1 588.31,1331.1 589.08,1330.5 589.46,1329.4 591,1328.7 592.92,1328.7 593.31,1329.1 596.38,1337.5 597.92,1344.3 601.38,1363.7 602.54,1368.3 604.08,1372.6 605.62,1376.2 611.77,1387.3 612.92,1388.6 613.31,1389.6 615.23,1390.7 615.62,1392.3 616,1390.5 616.38,1390.4 616.77,1392.6 617.15,1390.4 617.54,1392.6 617.92,1392.6 618.31,1390.4 618.69,1392.6 619.08,1392.6 619.46,1390.4 619.85,1392.6 620.23,1390.4 620.62,1392.6 621.38,1392.6 621.77,1390.5 622.15,1390.9 622.54,1390.8 623.31,1389.2 627.15,1373.8 631.38,1351.8 634.08,1344.7 635.23,1342.4 636.38,1341.6 637.15,1342 639.08,1341.8 640.23,1342.3 640.62,1342.6 641.77,1344.9 646,1364.6 649.46,1377 651,1381.2 652.15,1383.3 655.23,1384 655.62,1385.7 656,1384.1 656.38,1385.8 661,1386 661.38,1388.1 661.77,1386 662.15,1388.1 662.54,1386 662.92,1388.2 663.31,1388.2 663.69,1386 664.08,1388.2 664.46,1386 664.85,1388.2 665.23,1386 665.62,1388.2 666,1388.2 666.38,1386 666.77,1388.2 667.15,1386 669.46,1386.1 671.77,1385.4 673.69,1381.5 677.92,1369 679.08,1366.8 680.62,1365.7 681,1364.6 682.15,1364.1 685.23,1363.8 686.38,1364.8 690.62,1373.4 693.69,1380.7 694.85,1382.2 695.23,1383.3 695.62,1382 696,1383.8 701.77,1383.7 702.15,1382 703.69,1381.7 705.23,1380.8 705.62,1379.7 706.77,1379.3 709.08,1379.4 710.62,1379.9 711,1381.1 712.54,1381.8 712.92,1383 713.31,1382.2 713.69,1383.4 714.08,1383.6 718.31,1383.8 719.46,1383.5 719.85,1382.2 722.54,1380.8 722.92,1379.7 724.08,1378.7 729.85,1366.7 731,1364.7 732.54,1363.7 732.92,1362.5 733.31,1363.4 733.69,1362.1 736.38,1361.3 736.77,1359.9 739.85,1359.4 740.23,1357.7 740.62,1359.4 741,1359.4 741.38,1357.5 741.77,1359.4 742.15,1359.4 742.54,1357.4 744.85,1357.4 745.23,1355.3 745.62,1357.4 746,1355.3 746.38,1357.4 746.77,1355.3 747.15,1357.4 749.08,1357.4 749.46,1355.3 749.85,1355.2 750.23,1357.4 751,1357.4 751.38,1355.2 751.77,1355.2 752.15,1357.4 752.54,1357.4 752.92,1355.2 755.23,1355.2 755.62,1357.4 756,1355.2 761.77,1355.2 762.15,1353 762.54,1355.2 764.46,1355.2 764.85,1353 765.23,1355.2 765.62,1353 766,1355.2 766.77,1355.2 767.15,1353 767.54,1355.2 768.31,1355.2 768.69,1353 769.08,1353 769.46,1355.2 769.85,1353 770.23,1355.2 770.62,1353 771,1355.2 771.38,1353 771.77,1355.2 772.15,1353 776.38,1353 776.77,1355.2 777.15,1355.2 777.54,1353 787.54,1353 787.92,1350.8 788.31,1353 789.46,1353 789.85,1350.8 790.23,1353 792.15,1353 792.54,1350.8 792.92,1353 795.23,1353 795.62,1350.8 796,1353 797.54,1353 797.92,1350.8 798.31,1353 799.85,1353 800.23,1350.8 801.38,1350.8 801.77,1353 802.15,1353 802.54,1350.8 802.92,1353 803.31,1350.8 803.69,1353 804.08,1350.8 806,1350.8 806.38,1353 806.77,1350.8 820.23,1350.8 820.62,1348.6 821,1350.8 824.85,1350.8 825.23,1348.6 825.62,1350.8 826,1350.8 826.38,1348.6 826.77,1350.8 827.15,1348.6 827.54,1350.8 828.31,1350.8 828.69,1348.6 829.08,1348.6 829.46,1350.8 830.62,1350.8 831,1348.6 831.38,1350.8 831.77,1348.6 832.15,1350.8 832.92,1350.8 833.31,1348.6 833.69,1350.8 834.08,1348.6 834.46,1350.8 834.85,1348.6 835.23,1348.6 835.62,1350.8 836,1348.6 836.38,1348.6 836.77,1350.8 837.15,1348.6 844.08,1348.6 844.46,1350.8 844.85,1348.6 851.38,1348.6 851.77,1350.8 852.15,1346.4 852.54,1348.6 854.08,1348.6 854.46,1346.4 854.85,1348.6 857.15,1348.6 857.54,1346.4 857.92,1348.6 858.31,1346.4 858.69,1348.6 859.08,1346.4 859.46,1348.6 860.62,1348.6 861,1346.4 861.38,1348.6 862.54,1348.6 862.92,1346.4 863.31,1346.4 863.69,1348.6 864.08,1348.6 864.46,1346.4 864.85,1348.6 865.23,1346.4 866,1346.4 866.38,1348.6 866.77,1348.6 867.15,1346.4 867.54,1348.6 867.92,1346.4 868.31,1348.6 868.69,1346.4 869.08,1348.6 869.46,1346.4 871.38,1346.4 871.77,1348.6 872.15,1346.4 874.08,1346.4 874.46,1348.6 874.85,1346.4 883.31,1346.4 883.69,1344.2 884.08,1346.4 885.62,1346.4 886,1344.2 886.38,1346.4 889.08,1346.4 889.46,1348.6 889.85,1346.4 904.85,1346.4 905.23,1344.2 905.62,1346.4 908.31,1346.4 908.69,1344.2 909.08,1346.4 909.46,1344.2 909.85,1346.4 910.23,1344.2 910.62,1346.4 912.92,1346.4 913.31,1344.2 913.69,1346.4 917.92,1346.4 918.31,1344.2 918.69,1346.4 920.23,1346.4 920.62,1344.2 921,1346.4 927.54,1346.4 927.92,1344.2 928.31,1346.4 931,1346.4 931.38,1344.2 931.77,1346.4 932.92,1346.4 933.31,1344.2 933.69,1346.4 934.46,1346.4 934.85,1344.2 935.23,1346.4 937.54,1346.4 937.92,1344.2 938.31,1344.2 938.69,1346.4 939.46,1346.4 939.85,1344.2 940.23,1346.4 940.62,1346.4 941,1344.2 941.38,1344.2 941.77,1346.4 943.31,1346.4 943.69,1344.2 944.08,1344.2 944.46,1346.4 944.85,1346.4 945.23,1344.2 945.62,1346.4 946.77,1346.4 947.15,1344.2 947.54,1344.2 947.92,1346.4 948.31,1344.2 948.69,1346.4 949.08,1344.2 951,1344.2 951.38,1346.4 951.77,1344.2 952.15,1344.2 952.54,1346.4 952.92,1346.4 953.31,1344.2 953.69,1346.4 954.08,1344.2 955.23,1344.2 955.62,1346.4 956,1344.2 959.46,1344.2 959.85,1346.4 960.23,1344.2 962.92,1344.2 963.31,1346.4 963.69,1344.2 964.08,1344.2 964.46,1342 964.85,1344.2 981,1344.2 981.38,1342 981.77,1344.2 982.15,1344.2 982.54,1342 982.92,1344.2 983.31,1342 983.69,1344.2 985.23,1344.2 985.62,1342 986,1344.2 986.77,1344.2 987.15,1342 987.54,1342 987.92,1344.2 988.31,1344.2 988.69,1342 992.15,1342 992.54,1344.2 992.92,1344.2 993.31,1342 993.69,1344.2 994.08,1342 995.23,1342 995.62,1344.2 996,1342 996.77,1342 997.15,1344.2 997.54,1342 997.92,1342 998.31,1344.2 998.69,1342 1000.23,1342 1000.62,1344.2 1001,1339.8 1001.38,1342 1022.92,1342 1023.31,1339.8 1023.69,1342 1033.69,1342 1034.08,1339.8 1034.46,1342 1034.85,1342 1035.23,1339.8 1035.62,1342 1036.77,1342 1037.15,1339.8 1037.54,1342 1038.31,1342 1038.69,1339.8 1039.85,1339.8 1040.23,1342 1041.77,1342 1042.15,1339.8 1042.54,1342 1042.92,1339.8 1043.31,1342 1044.85,1342 1045.23,1339.8 1045.62,1342 1046,1339.8 1046.38,1342 1046.77,1339.8 1047.15,1342 1048.31,1342 1048.69,1339.8 1049.08,1342 1049.46,1339.8 1049.85,1339.8 1050.23,1342 1050.62,1342 1051,1339.8 1051.38,1342 1052.15,1342 1052.54,1339.8 1052.92,1342 1053.69,1342 1054.08,1339.8 1054.46,1339.8 1054.85,1342 1055.23,1342 1055.62,1339.8 1056,1342 1056.77,1342 1057.15,1339.8 1057.54,1342 1057.92,1342 1058.31,1339.8 1058.69,1342 1059.08,1339.8 1059.46,1342 1059.85,1339.8 1061,1339.8 1061.38,1342 1061.77,1342 1062.15,1339.8 1062.54,1339.8 1062.92,1342 1063.31,1342 1063.69,1339.8 1064.08,1339.8 1064.46,1342 1064.85,1339.8 1065.23,1342 1065.62,1339.8 1066,1342 1066.38,1342 1066.77,1339.8 1068.31,1339.8 1068.69,1342 1069.46,1342 1069.85,1339.8 1074.08,1339.8 1074.46,1342 1074.85,1342 1075.23,1339.8 1077.15,1339.8 1077.54,1339.8 1077.92,1342 1078.31,1339.8 1080.62,1339.8 1082.15,1339.8 1082.54,1342 1082.92,1339.8 1083.31,1339.8 1083.69,1342 1084.08,1339.8 1087.15,1339.8 1087.54,1342 1087.92,1339.8 1089.08,1339.8 1089.46,1342 1089.85,1342 1090.23,1339.8 1091.77,1339.8 1092.15,1342 1092.54,1339.8 1104.85,1339.8 1105.08,1337.6"/>
<polyline class="tr" points="196.77,1447.6 208.31,1447.6 208.69,1445.4 209.08,1447.6 212.54,1447.6 212.92,1445.4 213.31,1447.6 214.46,1447.6 214.85,1445.4 215.23,1445.4 215.62,1447.6 217.54,1447.6 217.92,1445.4 218.31,1447.6 224.46,1447.6 224.85,1445.4 225.62,1445.4 226,1447.6 226.38,1447.6 226.77,1445.4 227.15,1447.6 229.08,1447.6 229.46,1445.4 229.85,1447.6 231.38,1447.6 231.77,1445.4 232.15,1447.6 233.31,1447.5 233.69,1445.7 234.08,1447.5 236.77,1448 237.15,1449.4 239.85,1450.4 242.15,1455.1 244.85,1463.3 249.46,1483.1 253.31,1495.9 255.62,1501.9 259.46,1508.7 260.62,1509.8 261,1510.8 261.77,1511.3 266,1511.4 266.38,1513.6 266.77,1511.4 268.31,1511.4 268.69,1513.6 269.08,1511.4 269.46,1513.6 269.85,1511.4 270.62,1511.4 271,1513.6 271.38,1511.4 271.77,1513.6 272.15,1511.4 272.54,1513.6 273.69,1513.6 274.08,1511.4 274.46,1511.4 274.85,1513.6 276,1513.6 276.38,1511.4 276.77,1511.4 277.15,1513.6 277.92,1513.6 278.31,1511.4 278.69,1513.6 281.38,1513.6 282.54,1514.4 286.38,1520.8 288.69,1525.9 290.23,1528.7 292.15,1529.4 292.54,1530.9 292.92,1529.4 293.31,1531 296.77,1531.3 297.15,1533.3 299.08,1533.4 299.46,1531.2 299.85,1533.4 323.31,1533.5 324.08,1533.9 324.46,1535.1 325.62,1536 330.23,1543.6 331.38,1544.5 332.54,1544.6 332.92,1546.3 341.38,1546.6 341.77,1548.8 342.15,1546.6 342.54,1548.8 342.92,1548.8 343.31,1546.6 343.69,1546.6 344.08,1548.8 344.46,1546.6 346.38,1546.6 346.77,1548.8 347.15,1546.6 348.31,1546.6 348.69,1548.8 349.08,1546.6 349.46,1548.8 349.85,1546.6 354.85,1546.6 355.23,1548.8 355.62,1546.6 360.62,1546.6 361,1548.8 361.38,1546.6 365.62,1546.6 366.38,1546.8 366.77,1548.4 367.92,1548.6 369.46,1549.4 369.85,1550.5 371.38,1551.5 371.77,1552.6 373.31,1553.3 373.69,1554.8 374.08,1553.4 374.85,1553.4 375.23,1555.2 381,1555.5 381.38,1557.5 381.77,1555.5 382.15,1557.5 386.38,1557.6 391.38,1557.6 391.77,1555.4 392.15,1557.6 394.08,1557.6 394.46,1555.4 394.85,1555.4 395.23,1557.6 395.62,1555.4 396,1557.6 396.38,1555.4 406.77,1555.6 407.54,1555.9 407.92,1557.2 409.85,1558.1 410.23,1559.2 411.77,1560 412.15,1561.2 414.08,1562 415.62,1562.1 416,1564 416.38,1564 416.77,1562.2 417.15,1562.2 417.54,1564.1 428.31,1564.2 428.69,1566.4 429.08,1564.2 431,1564.2 431.38,1566.4 431.77,1564.2 433.69,1564.2 434.08,1566.4 434.46,1564.2 434.85,1564.2 435.23,1566.4 435.62,1564.2 439.85,1564.2 440.23,1566.4 440.62,1564.2 441.38,1564.3 442.15,1564.5 442.54,1566 444.46,1566.7 444.85,1567.9 445.23,1567.1 445.62,1568.3 447.15,1568.9 447.54,1570.4 447.92,1570.5 448.31,1568.8 448.69,1570.7 461,1570.8 461.38,1572.9 461.77,1570.9 462.15,1571 462.54,1572.8 466,1573.2 466.38,1574.8 469.08,1575.2 482.15,1575.2 482.54,1577.3 482.92,1575.3 483.31,1575.3 483.69,1577.2 488.31,1577.7 488.69,1579.3 498.69,1579.6 499.08,1581.8 506.38,1582 507.15,1582.3 507.54,1583.5 509.85,1584.4 510.23,1585.9 511,1586.1 526,1586.3 526.77,1586.6 527.15,1587.9 528.69,1588.7 529.08,1589.7 529.46,1589.2 529.85,1590.2 531,1590.9 531.38,1592.1 532.92,1592.8 541.38,1592.5 541.77,1590.9 543.69,1590.5 544.46,1589.8 546,1586.2 547.54,1581.2 549.08,1574.8 549.85,1569.4 553.69,1531.1 556.38,1509.5 558.31,1496.6 560.23,1487.7 562.15,1481.3 564.85,1476.6 565.62,1476.2 567.15,1476.3 567.92,1476.9 570.62,1481.8 571.38,1484.3 575.23,1504.7 580.23,1529.1 581.77,1535.6 584.85,1546.1 593.31,1570.7 594.08,1572.4 595.23,1573.2 595.62,1574.6 596,1574.8 596.38,1573.4 596.77,1575 597.92,1575.2 599.08,1574.8 600.23,1571.8 602.54,1559.8 603.69,1549 606,1519.9 608.69,1499.6 609.85,1494.2 610.62,1492.4 612.15,1489.9 612.92,1489.4 614.46,1489.5 615.23,1490.1 617.54,1494.2 618.69,1497.4 619.85,1503.2 626.38,1542.8 629.08,1555.5 632.92,1565.8 634.08,1567.9 634.85,1568.6 636.77,1568.6 637.15,1570.7 637.54,1568.6 639.08,1568.6 639.46,1570.8 639.85,1568.6 640.62,1568.6 641,1570.8 642.54,1570.6 642.92,1569.1 643.69,1568.7 645.62,1564.1 647.92,1555.6 651,1531.3 654.08,1513.4 655.23,1509.4 656.77,1505.6 657.92,1504.2 658.31,1503 659.08,1502.6 659.85,1503 660.23,1504.3 661.38,1505.1 662.92,1507.6 664.46,1511.1 665.62,1516 668.69,1534.2 672.92,1555.6 674.85,1561.3 677.15,1565.7 678.31,1566.6 682.15,1566.4 684.08,1566 684.46,1564.6 686.77,1563.9 687.15,1562.6 689.46,1561.4 689.85,1560.4 691,1559.4 691.38,1558.4 692.54,1557.1 695.23,1552.4 696,1550.2 700.62,1534.3 703.31,1529.5 704.08,1528.8 706,1528.8 706.77,1529.2 709.85,1534.2 711.38,1538.4 715.23,1553.2 719.46,1563.6 720.23,1564.5 721,1564.7 721.38,1566.3 721.77,1566.4 722.54,1566.2 722.92,1564.5 724.85,1563.9 725.23,1562.8 726.77,1561.7 727.92,1559.9 732.54,1549.4 734.46,1545.7 738.69,1538.6 740.23,1537.4 740.62,1536.2 745.23,1535.2 745.62,1533.5 749.46,1533.3 749.85,1531.3 750.23,1533.3 751,1533.3 751.38,1531.3 751.77,1533.3 752.15,1533.3 752.54,1531.2 754.85,1531.2 755.23,1533.3 755.62,1531.2 763.31,1531.2 763.69,1529 764.08,1531.2 765.62,1531.2 766,1529 766.38,1531.2 766.77,1529 767.15,1531.2 767.92,1531.2 768.31,1529 770.23,1529 770.62,1531.2 771,1531.2 771.38,1529 771.77,1531.2 772.15,1529 772.54,1531.2 772.92,1529 773.31,1529 773.69,1531.2 774.08,1529 776.38,1529 776.77,1531.2 777.15,1529 788.31,1529 788.69,1526.8 789.08,1529 792.54,1529 792.92,1526.8 793.31,1529 798.69,1529 799.08,1526.8 799.46,1529 799.85,1526.8 800.23,1529 800.62,1526.8 801,1526.8 801.38,1529 801.77,1526.8 809.46,1526.8 809.85,1529 810.23,1526.8 810.62,1526.8 811,1529 811.38,1526.8 820.62,1526.8 821,1524.6 821.38,1526.8 822.92,1526.8 823.31,1524.6 823.69,1526.8 825.23,1526.8 825.62,1524.6 826,1526.8 826.77,1526.8 827.15,1524.6 827.54,1526.8 827.92,1526.8 828.31,1524.6 828.69,1526.8 829.85,1526.8 830.23,1524.6 830.62,1526.8 832.15,1526.8 832.54,1524.6 832.92,1524.6 833.31,1526.8 833.69,1524.6 834.85,1524.6 835.23,1526.8 836,1526.8 836.38,1524.6 837.92,1524.6 838.31,1526.8 838.69,1526.8 839.08,1524.6 839.46,1524.6 839.85,1526.8 840.23,1524.6 842.92,1524.6 843.31,1526.8 843.69,1524.6 851,1524.6 851.38,1522.4 851.77,1524.6 854.46,1524.6 854.85,1522.4 855.23,1524.6 855.62,1524.6 856,1522.4 856.38,1524.6 856.77,1524.6 857.15,1522.4 857.54,1524.6 862.15,1524.6 862.54,1522.4 862.92,1524.6 863.31,1522.4 863.69,1524.6 864.08,1522.4 864.46,1524.6 864.85,1522.4 865.23,1524.6 865.62,1524.6 866,1522.4 866.38,1524.6 866.77,1524.6 867.15,1522.4 867.54,1522.4 867.92,1524.6 868.31,1522.4 868.69,1524.6 869.08,1522.4 871,1522.4 871.38,1524.6 871.77,1524.6 872.15,1522.4 874.46,1522.4 874.85,1524.6 875.23,1522.4 892.92,1522.4 893.31,1520.2 893.69,1520.2 894.08,1522.4 896.38,1522.4 896.77,1520.2 897.15,1520.2 897.54,1522.4 897.92,1520.2 898.31,1522.4 899.46,1522.4 899.85,1520.2 900.23,1520.2 900.62,1522.4 902.15,1522.4 902.54,1520.2 902.92,1522.4 903.31,1520.2 903.69,1522.4 904.08,1520.2 904.46,1520.2 904.85,1522.4 906,1522.4 906.38,1520.2 906.77,1522.4 907.15,1522.4 907.54,1520.2 907.92,1522.4 908.69,1522.4 909.08,1520.2 909.85,1520.2 910.23,1522.4 911,1522.4 911.38,1520.2 911.77,1520.2 912.15,1522.4 912.54,1522.4 912.92,1520.2 913.31,1522.4 913.69,1520.2 916,1520.2 916.38,1522.4 916.77,1520.2 917.15,1522.4 917.54,1520.2 919.46,1520.2 919.85,1522.4 920.23,1520.2 921.77,1520.2 922.15,1522.4 922.54,1522.4 922.92,1520.2 924.08,1520.2 924.46,1522.4 924.85,1520.2 932.92,1520.2 933.31,1522.4 933.69,1520.2 935.62,1520.2 936,1522.4 936.38,1520.2 944.85,1520.2 945.23,1518 945.62,1520.2 956.38,1520.2 956.77,1518 957.15,1520.2 958.31,1520.2 958.69,1518 959.08,1520.2 962.54,1520.2 962.92,1518 963.31,1520.2 963.69,1518 964.08,1520.2 965.23,1520.2 965.62,1518 966,1520.2 967.92,1520.2 968.31,1518 968.69,1518 969.08,1520.2 969.46,1520.2 969.85,1518 970.23,1518 970.62,1520.2 972.15,1520.2 972.54,1518 972.92,1518 973.31,1520.2 973.69,1518 974.08,1518 974.46,1520.2 974.85,1520.2 975.23,1518 975.62,1518 976,1520.2 977.54,1520.2 977.92,1518 978.31,1520.2 978.69,1518 979.08,1520.2 979.46,1520.2 979.85,1518 980.23,1520.2 980.62,1518 981,1520.2 981.38,1520.2 981.77,1518 982.15,1520.2 982.54,1518 982.92,1520.2 983.31,1520.2 983.69,1518 984.08,1518 984.46,1520.2 984.85,1520.2 985.23,1518 986,1518 986.38,1520.2 986.77,1518 989.08,1518 989.46,1520.2 989.85,1520.2 990.23,1518 991.38,1518 991.77,1520.2 992.15,1518 992.54,1518 992.92,1520.2 993.31,1518 994.46,1518 994.85,1520.2 995.23,1520.2 995.62,1518 997.92,1518 998.31,1520.2 998.69,1518 1000.62,1518 1001,1520.2 1001.38,1518 1004.08,1518 1004.46,1520.2 1004.85,1518 1009.85,1518 1010.23,1515.8 1010.62,1518 1011.38,1518 1011.77,1520.2 1012.15,1518 1014.46,1518 1014.85,1520.2 1015.23,1518 1017.15,1518 1017.54,1520.2 1017.92,1518 1026.38,1518 1026.77,1515.8 1027.15,1518 1034.46,1518 1034.85,1515.8 1035.23,1518 1038.69,1518 1039.08,1515.8 1039.85,1515.8 1040.23,1518 1041.77,1518 1042.15,1515.8 1042.54,1518 1042.92,1518 1043.31,1515.8 1043.69,1518 1048.69,1518 1049.08,1515.8 1049.46,1518 1050.23,1518 1050.62,1515.8 1051.38,1515.8 1051.77,1518 1052.15,1515.8 1052.54,1518 1053.31,1518 1053.69,1515.8 1054.08,1515.8 1054.46,1518 1055.62,1518 1056,1515.8 1056.77,1515.8 1057.15,1518 1057.92,1518 1058.31,1515.8 1059.46,1515.8 1059.85,1518 1060.23,1515.8 1060.62,1518 1061,1518 1061.38,1515.8 1062.15,1515.8 1062.54,1518 1063.31,1518 1063.69,1515.8 1064.46,1515.8 1064.85,1518 1065.23,1515.8 1065.62,1518 1066,1518 1066.38,1515.8 1066.77,1515.8 1067.15,1518 1067.54,1515.8 1067.92,1515.8 1068.31,1518 1068.69,1515.8 1069.46,1515.8 1069.85,1518 1070.23,1518 1070.62,1515.8 1071.77,1515.8 1072.15,1518 1072.54,1515.8 1072.92,1515.8 1073.31,1518 1074.08,1518 1074.46,1515.8 1074.85,1515.8 1075.23,1518 1075.62,1518 1076,1515.8 1077.15,1515.8 1077.54,1518 1077.92,1515.8 1079.08,1515.8 1079.46,1518 1079.85,1518 1080.23,1515.8 1080.62,1518 1081,1515.8 1082.54,1515.8 1082.92,1518 1083.31,1518 1083.69,1515.8 1084.46,1515.8 1084.85,1518 1085.23,1515.8 1092.92,1515.8 1093.31,1518 1093.69,1515.8 1094.08,1518 1094.46,1515.8 1097.92,1515.8 1098.31,1518 1098.69,1515.8 1105.08,1515.8"/>
<polyline class="tr" points="196.77,1623.6 197.15,1621.4 197.92,1621.4 198.31,1623.6 198.69,1621.4 199.08,1621.4 199.46,1623.6 199.85,1621.4 202.15,1621.4 202.54,1623.6 202.92,1621.4 204.46,1621.4 204.85,1623.6 205.23,1621.4 209.46,1621.4 209.85,1623.6 210.23,1621.4 210.62,1623.6 211,1621.4 238.31,1621.4 239.08,1621.6 239.46,1622.7 240.62,1624.1 244.08,1633.2 248.31,1651.9 253.69,1671.4 256.38,1677.8 259.08,1682.5 260.23,1683.6 260.62,1684.6 261,1684.9 263.69,1685.5 264.08,1687.1 270.23,1687.5 270.62,1689.5 271,1687.5 271.38,1689.5 274.85,1689.6 275.23,1687.4 275.62,1689.6 282.92,1689.6 283.69,1689.9 284.46,1690.9 285.23,1692.6 287.92,1700.1 289.08,1702.6 290.23,1703.3 290.62,1704.5 292.54,1705.3 292.92,1706.6 296.77,1707.4 297.15,1709.2 302.92,1709.4 303.31,1707.2 303.69,1709.4 324.08,1709.4 325.23,1710.1 325.62,1711 326.38,1711.9 329.46,1716.9 330.62,1719.2 332.15,1720.4 338.69,1720.4 339.08,1722.6 339.46,1722.6 339.85,1720.4 342.92,1720.4 343.31,1722.6 343.69,1722.6 344.08,1720.4 344.85,1720.4 345.23,1722.6 346,1722.6 346.38,1720.4 347.54,1720.4 347.92,1722.6 348.31,1722.6 348.69,1720.4 349.08,1722.6 349.46,1720.4 349.85,1722.6 350.23,1720.4 351.38,1720.4 351.77,1722.6 354.85,1722.6 355.23,1720.4 355.62,1722.6 356,1720.4 356.38,1722.6 357.92,1722.6 358.31,1720.4 358.69,1722.6 360.62,1722.6 361,1720.4 361.38,1722.6 361.77,1722.6 362.15,1720.4 362.54,1722.6 368.69,1722.6 369.85,1723.2 370.23,1724.2 371.77,1725.9 372.92,1728.2 374.46,1729.8 374.85,1730.8 376,1731.4 400.62,1731.4 401,1729.2 401.38,1731.4 402.54,1731.4 402.92,1729.2 403.31,1731.4 407.15,1731.4 407.54,1729.2 407.92,1729.3 408.31,1731.3 409.08,1731.3 410.23,1732 410.62,1733 411.77,1734.1 412.15,1735.1 414.08,1736.8 414.46,1737.8 415.62,1738.2 417.15,1738 417.54,1740.2 417.92,1738 419.46,1738 419.85,1740.2 420.62,1740.2 421,1738 421.38,1740.2 421.77,1740.2 422.15,1738 422.54,1740.2 424.46,1740.2 424.85,1738 425.23,1740.2 426.38,1740.2 426.77,1738 427.15,1738 427.54,1740.2 428.31,1740.2 428.69,1738 429.08,1740.2 429.46,1740.2 429.85,1738 430.23,1740.2 431.77,1740.2 432.15,1738 432.54,1740.2 437.54,1740.2 437.92,1738 438.31,1740.2 444.46,1740.4 445.23,1741.1 446.38,1743.4 447.92,1744.6 462.54,1744.8 462.92,1746.3 465.23,1747.2 465.62,1748.3 466.38,1748.7 468.31,1749.1 468.69,1751.1 469.08,1751.2 469.46,1749 469.85,1749 470.23,1751.2 470.62,1749 471,1749 471.38,1751.2 471.77,1751.2 472.15,1749 472.54,1751.2 472.92,1749 473.31,1749 473.69,1751.2 474.46,1751.2 474.85,1749 476,1749 476.38,1751.2 476.77,1749 478.69,1749 479.08,1751.2 479.46,1749 479.85,1751.2 480.23,1749 481,1749 481.38,1751.2 481.77,1749 482.15,1751.2 482.54,1749.1 482.92,1751.1 484.46,1751 486.38,1751.6 486.77,1752.9 488.69,1753.6 489.08,1755 489.46,1753.8 489.85,1755.2 490.23,1755.4 504.85,1755.6 505.23,1757.7 505.62,1755.8 506,1757.5 508.31,1758.3 508.69,1759.4 510.62,1760.3 512.15,1760.2 512.54,1762.2 526,1762.3 526.77,1762.5 527.15,1763.9 529.46,1764.8 529.85,1766 531,1766.5 544.08,1766.7 544.46,1768.6 544.85,1766.8 545.23,1768.7 547.15,1768.8 548.69,1769.4 549.08,1770.6 550.23,1771.1 552.54,1771 552.92,1773.2 553.69,1773.2 554.08,1771 554.46,1773.2 555.23,1773.2 555.62,1771 556,1773.2 557.92,1773.2 558.31,1771 558.69,1773.2 560.62,1773.2 561,1771 561.38,1773.2 567.15,1773 567.54,1772.7 567.92,1771.5 569.08,1770.2 571.77,1763.2 572.92,1757.6 574.85,1741.9 576.38,1727.2 579.08,1695.4 582.54,1665.9 584.08,1658 586,1650.8 588.31,1646.3 589.46,1645.6 590.62,1645.9 591.38,1646.8 593.69,1652 594.85,1656.6 599.08,1684.3 602.92,1713 606.77,1732.7 608.31,1738.2 611.38,1745.9 612.92,1748.8 613.69,1749.6 614.08,1750.7 615.23,1751.2 616.38,1750.9 616.77,1749.7 618.31,1748.3 619.85,1744.6 621.77,1733.5 623.69,1720.1 626.38,1698.2 629.08,1681.3 630.62,1675.1 633.31,1670.3 634.46,1669.8 635.23,1669.9 636,1670.6 637.15,1672.6 639.08,1677 639.85,1679.7 641.38,1687.8 643.69,1702.7 646.77,1727.7 649.08,1741.4 650.23,1746.5 651,1748.7 651.77,1749.4 652.15,1750.4 654.08,1751.2 655.62,1751.2 656.77,1748.8 659.46,1739.3 662.54,1722.5 665.62,1709.1 666.38,1707 668.31,1703.6 669.46,1702.7 672.15,1702.8 673.69,1703.3 674.08,1704.5 676,1705.5 676.38,1706.6 678.31,1707.9 679.85,1710.6 680.23,1710.6 683.31,1716.7 684.08,1718.8 687.92,1733.4 692.15,1748.1 692.92,1749.3 693.31,1749.4 693.69,1751 694.08,1751.1 694.46,1749.1 694.85,1751.1 697.15,1751.2 697.54,1750.9 698.69,1748.4 701.38,1737.3 704.46,1717.7 706.77,1707.5 708.31,1702.9 708.69,1702.5 709.46,1702.5 709.85,1700.9 711,1700.7 712.54,1700.6 713.31,1701.3 719.46,1720.3 721,1724.4 722.15,1726.5 722.92,1727 730.62,1727 732.92,1726.6 733.31,1725.1 733.69,1726.2 734.08,1724.9 736,1724 736.38,1722.9 737.92,1722.3 738.31,1720.9 738.69,1722.1 739.08,1720.7 740.62,1720.2 741,1718.9 741.38,1720 741.77,1718.7 742.92,1718.3 743.31,1719.3 743.69,1718 744.46,1717.8 744.85,1716.4 748.31,1715.8 748.69,1714 749.08,1714 749.46,1715.7 749.85,1715.7 750.23,1713.9 752.92,1713.7 753.31,1711.8 754.85,1711.7 755.23,1713.6 755.62,1713.6 756,1711.7 756.77,1711.6 757.15,1713.6 757.54,1711.6 759.08,1711.6 759.46,1709.5 759.85,1709.5 760.23,1711.6 761.38,1711.6 761.77,1709.5 762.15,1711.6 763.31,1711.6 763.69,1709.4 764.46,1709.4 764.85,1711.6 765.23,1709.4 765.62,1709.4 766,1711.6 766.38,1709.4 767.15,1709.4 767.54,1711.6 768.69,1711.5 769.08,1709.4 770.23,1709.4 770.62,1711.6 771,1709.4 775.23,1709.4 775.62,1707.2 776,1707.2 776.38,1709.4 777.92,1709.4 778.31,1707.2 778.69,1709.4 779.08,1707.2 779.85,1707.2 780.23,1709.4 781,1709.4 781.38,1707.2 781.77,1709.4 782.15,1707.2 785.23,1707.2 785.62,1709.4 786,1707.2 788.69,1707.2 789.08,1709.4 789.46,1707.2 791,1707.2 791.38,1709.4 791.77,1707.2 794.85,1707.2 795.23,1705 795.62,1707.2 797.54,1707.2 797.92,1705 798.31,1707.2 799.46,1707.2 799.85,1705 800.23,1707.2 801.38,1707.2 801.77,1705 802.15,1705 802.54,1707.2 802.92,1705 803.31,1707.2 804.08,1707.2 804.46,1705 804.85,1705 805.23,1707.2 806.38,1707.2 806.77,1705 807.15,1707.2 807.54,1705 807.92,1707.2 808.31,1705 808.69,1707.2 809.08,1705 811,1705 811.38,1707.2 811.77,1705 812.54,1705 812.92,1707.2 813.31,1705 816.38,1705 816.77,1707.2 817.15,1705 818.31,1705 818.69,1707.2 819.08,1705 823.31,1705 823.69,1702.8 824.08,1705 826.77,1705 827.15,1702.8 827.54,1705 829.46,1705 829.85,1702.8 830.23,1705 830.62,1705 831,1702.8 831.38,1705 831.77,1702.8 832.15,1705 833.31,1705 833.69,1702.8 834.08,1705 834.46,1705 834.85,1702.8 835.23,1705 835.62,1705 836,1702.8 836.38,1705 836.77,1702.8 837.15,1705 837.54,1702.8 837.92,1705 838.31,1705 838.69,1702.8 842.92,1702.8 843.31,1705 843.69,1702.8 844.08,1705 844.46,1705 844.85,1702.8 849.08,1702.8 849.46,1705 849.85,1702.8 854.46,1702.8 854.85,1700.6 855.23,1702.8 855.62,1702.8 856,1700.6 856.38,1702.8 860.62,1702.8 861,1700.6 861.38,1702.8 864.08,1702.8 864.46,1700.6 864.85,1700.6 865.23,1702.8 865.62,1700.6 866.38,1700.6 866.77,1702.8 867.15,1700.6 867.54,1702.8 867.92,1702.8 868.31,1700.6 868.69,1700.6 869.08,1702.8 869.46,1702.8 869.85,1700.6 870.23,1700.6 870.62,1702.8 871,1702.8 871.38,1700.6 871.77,1700.6 872.15,1702.8 872.54,1702.8 872.92,1700.6 873.31,1702.8 873.69,1700.6 875.62,1700.6 876,1702.8 876.38,1700.6 886,1700.6 886.38,1698.4 886.77,1702.8 887.15,1700.6 894.08,1700.6 894.46,1698.4 894.85,1700.6 896,1700.6 896.38,1698.4 896.77,1700.6 898.31,1700.6 898.69,1698.4 899.08,1700.6 900.62,1700.6 901,1698.4 902.15,1698.4 902.54,1700.6 904.08,1700.6 904.46,1698.4 904.85,1700.6 907.15,1700.6 907.54,1698.4 907.92,1700.6 908.31,1698.4 908.69,1700.6 909.08,1700.6 909.46,1698.4 909.85,1700.6 911.38,1700.6 911.77,1698.4 912.15,1700.6 912.54,1700.6 912.92,1698.4 913.31,1698.4 913.69,1700.6 914.08,1698.4 914.46,1698.4 914.85,1700.6 915.23,1700.6 915.62,1698.4 916.77,1698.4 917.15,1700.6 917.54,1700.6 917.92,1698.4 919.46,1698.4 919.85,1700.6 920.23,1700.6 920.62,1698.4 921,1700.6 921.38,1698.4 921.77,1700.6 922.15,1698.4 922.54,1700.6 922.92,1698.4 929.08,1698.4 929.46,1700.6 929.85,1698.4 931.38,1698.4 931.77,1700.6 932.15,1698.4 947.15,1698.4 947.54,1696.2 947.92,1698.4 949.85,1698.4 950.23,1696.2 950.62,1698.4 951.77,1698.4 952.15,1696.2 952.54,1698.4 952.92,1696.2 953.31,1698.4 953.69,1698.4 954.08,1696.2 954.46,1698.4 957.15,1698.4 957.54,1696.2 957.92,1696.2 958.31,1698.4 958.69,1698.4 959.08,1696.2 959.46,1698.4 960.23,1698.4 960.62,1696.2 961.38,1696.2 961.77,1698.4 962.15,1696.2 962.54,1698.4 962.92,1696.2 963.31,1698.4 963.69,1696.2 979.85,1696.2 980.23,1694 980.62,1696.2 983.69,1696.2 984.08,1694 984.46,1696.2 986,1696.2 986.38,1694 986.77,1696.2 987.15,1696.2 987.54,1694 987.92,1694 988.31,1696.2 988.69,1694 989.08,1696.2 989.46,1694 989.85,1696.2 990.23,1696.2 990.62,1694 991,1696.2 991.38,1694 991.77,1694 992.15,1696.2 992.92,1696.2 993.31,1694 993.69,1696.2 994.46,1696.2 994.85,1694 995.23,1696.2 995.62,1694 996,1696.2 996.38,1696.2 996.77,1694 997.15,1696.2 997.54,1694 997.92,1694 998.31,1696.2 998.69,1694 999.08,1696.2 999.46,1696.2 999.85,1694 1000.23,1696.2 1000.62,1696.2 1001,1694 1001.38,1696.2 1001.77,1694 1002.15,1694 1002.54,1696.2 1002.92,1694 1003.31,1694 1003.69,1696.2 1004.08,1694 1004.46,1696.2 1004.85,1691.8 1005.23,1694 1006,1694 1006.38,1696.2 1006.77,1694 1012.54,1694 1012.92,1696.2 1013.31,1694 1015.23,1694 1015.62,1696.2 1016,1694 1044.85,1694 1045.23,1691.8 1045.62,1691.8 1046,1694 1046.38,1691.8 1046.77,1694 1048.69,1694 1049.08,1691.8 1049.46,1694 1051.38,1694 1051.77,1691.8 1052.15,1691.8 1052.54,1694 1052.92,1694 1053.31,1691.8 1053.69,1694 1054.08,1691.8 1054.85,1691.8 1055.23,1694 1056.38,1694 1056.77,1691.8 1057.15,1694 1057.54,1691.8 1058.31,1691.8 1058.69,1694 1059.08,1691.8 1059.46,1694 1059.85,1691.8 1060.23,1694 1060.62,1691.8 1061,1694 1061.38,1694 1061.77,1691.8 1062.15,1694 1062.54,1691.8 1063.69,1691.8 1064.08,1694 1064.46,1691.8 1065.23,1691.8 1065.62,1694 1066,1691.8 1066.38,1691.8 1066.77,1694 1067.15,1694 1067.54,1691.8 1067.92,1694 1068.31,1691.8 1070.62,1691.8 1071,1694 1071.38,1691.8 1071.77,1691.8 1072.15,1694 1072.54,1691.8 1074.08,1691.8 1074.46,1694 1074.85,1691.8 1075.62,1691.8 1076,1694 1076.38,1691.8 1076.77,1694 1077.15,1691.8 1077.92,1691.8 1078.31,1694 1078.69,1691.8 1080.23,1691.8 1080.62,1694 1081,1691.8 1082.92,1691.8 1083.31,1694 1083.69,1691.8 1084.46,1691.8 1084.85,1694 1085.23,1691.8 1085.62,1694 1086,1691.8 1092.92,1691.8 1093.31,1694 1093.69,1691.8 1094.08,1691.8 1094.46,1694 1094.85,1691.8 1095.23,1691.8 1095.62,1694 1096,1691.8 1097.92,1691.8 1098.31,1694 1098.69,1691.8 1104.85,1691.8 1105.08,1694"/>
<polyline class="tr" points="196.77,1795.2 197.15,1797.4 197.54,1795.2 197.92,1797.4 198.31,1795.2 204.85,1795.2 205.23,1797.4 205.62,1795.2 209.46,1795.2 209.85,1797.4 210.23,1795.2 211,1795.2 211.38,1797.4 211.77,1795.2 213.69,1795.2 214.08,1797.4 214.85,1797.4 215.23,1795.2 215.62,1797.4 216,1795.2 219.08,1795.2 219.46,1797.4 219.85,1795.2 220.62,1795.2 221,1797.4 221.38,1795.2 222.15,1795.2 222.54,1797.4 223.31,1797.4 223.69,1795.2 226,1795.2 226.38,1797.4 227.15,1797.4 227.54,1795.2 227.92,1797.4 228.31,1795.2 229.08,1795.2 229.46,1797.4 229.85,1795.2 233.31,1795.2 233.69,1797.4 234.08,1795.2 238.31,1795.2 238.69,1797.2 239.08,1795.6 239.46,1796.9 240.62,1798 241.38,1799.7 244.08,1806.5 248.31,1826.8 251.77,1840.3 253.69,1846.6 255.62,1851.2 258.69,1856.4 259.85,1857.5 260.23,1858.5 262.15,1859.3 262.54,1860.7 262.92,1859.4 263.31,1860.9 267.92,1861.4 268.31,1863.3 281.38,1863.4 281.77,1865.5 282.15,1863.6 282.54,1865.1 283.31,1865.4 284.08,1866.2 286.77,1871.3 287.92,1872.7 291,1878.1 292.15,1879.2 292.54,1880.3 293.69,1880.9 297.15,1881.2 297.54,1883.1 324.08,1883.3 325.23,1884 325.62,1885 326.77,1886.1 330.23,1891.4 331.38,1892.4 331.77,1893.5 333.31,1894.2 336.77,1894.3 337.15,1896.3 337.54,1894.3 337.92,1894.3 338.31,1896.3 338.69,1894.3 339.08,1894.3 339.46,1896.3 339.85,1894.3 340.23,1896.4 367.15,1896.4 368.31,1897 368.69,1898.1 369.46,1898.6 369.85,1899.6 370.23,1899.3 372.15,1902.4 373.31,1903.4 373.69,1904.5 374.08,1903.6 374.46,1905 374.85,1905.1 407.92,1905.2 408.69,1905.5 409.08,1906.9 409.46,1905.9 409.85,1907.1 411.38,1908.1 411.77,1909.1 413.69,1910.2 414.08,1911.5 415.23,1911.8 424.85,1911.8 425.23,1914 425.62,1911.8 434.08,1911.8 434.46,1914 434.85,1914 435.23,1911.8 435.62,1911.8 436,1914 436.38,1911.8 437.15,1911.8 437.54,1914 437.92,1911.8 438.69,1911.8 439.08,1914 442.54,1914 442.92,1915.2 443.31,1914.4 444.08,1914.9 444.46,1916 445.62,1916.7 446,1917.8 446.38,1918 447.54,1918.4 450.23,1918.4 450.62,1920.6 451,1918.4 453.31,1918.4 453.69,1920.6 454.08,1918.4 454.46,1918.4 454.85,1920.6 455.23,1920.6 455.62,1918.4 456,1920.6 456.38,1920.6 456.77,1918.4 458.31,1918.4 458.69,1920.6 459.08,1918.4 459.46,1920.6 459.85,1918.4 460.23,1920.6 460.62,1920.6 461,1918.4 461.38,1920.6 461.77,1918.4 462.15,1918.4 462.54,1920.6 464.85,1920.5 465.62,1920.8 466,1921 466.38,1922.1 468.31,1923.4 468.69,1924.5 469.08,1924.7 483.69,1925.2 484.08,1925.3 484.46,1926.6 487.15,1927.9 487.54,1929.1 488.69,1929.4 491,1929.5 491.38,1931.5 493.31,1931.6 493.69,1929.5 494.08,1931.6 504.08,1931.6 504.46,1933.7 504.85,1931.7 506,1931.7 506.38,1933.7 512.15,1934 512.54,1935.8 512.92,1934 513.31,1935.9 520.62,1936.1 521,1938.1 529.85,1938.3 530.23,1940.3 530.62,1940.3 531,1938.3 531.38,1938.3 531.77,1940.3 538.31,1940.6 538.69,1942.4 543.69,1942.8 544.08,1944.6 548.69,1944.9 549.08,1946.8 549.46,1945 550.23,1945 550.62,1946.9 557.54,1947.1 557.92,1949.1 558.31,1947.1 558.69,1949.1 564.46,1949.2 564.85,1951.3 565.23,1949.2 565.62,1951.3 566,1949.2 566.38,1951.3 566.77,1949.3 567.15,1951.3 567.54,1951.3 567.92,1949.3 568.31,1951.4 589.46,1951.4 589.85,1953.6 590.23,1953.6 590.62,1951.4 591.38,1951.5 591.77,1953.5 592.54,1953.5 592.92,1951.5 593.31,1951.5 593.69,1953.5 599.08,1953.7 599.46,1955.7 599.85,1953.7 600.62,1953.6 601,1955.8 601.38,1955.8 601.77,1953.6 602.54,1953.6 602.92,1955.8 603.31,1955.8 603.69,1953.6 604.08,1955.8 604.85,1955.8 605.23,1953.6 605.62,1955.8 607.15,1955.8 607.54,1953.6 608.31,1953.6 608.69,1955.8 609.08,1953.7 609.46,1955.5 609.85,1954 610.62,1953.7 611.38,1952.8 612.54,1950.5 613.31,1948.2 614.85,1938.5 616.77,1921.8 620.23,1879.1 622.54,1854.4 624.08,1841.4 625.62,1832.7 627.15,1826.2 629.46,1820.2 630.62,1818.1 631.77,1817.2 633.31,1817.4 634.46,1818 634.85,1819.1 635.62,1819.6 636.38,1821 637.54,1824.2 639.46,1832.3 641,1841.1 648.31,1894.6 651.77,1913.5 653.69,1919.9 654.85,1921.8 655.23,1921.7 655.62,1922.6 656.77,1923.4 657.15,1924.6 658.31,1925 659.46,1924.8 661.38,1920.7 662.92,1915.9 663.69,1912.3 668.69,1879.2 670.23,1870.7 672.92,1862 674.08,1860.5 674.46,1859.4 676.77,1858.9 677.15,1857 677.54,1859 678.69,1858.8 679.46,1859.3 681.38,1863.5 682.92,1868.1 687.54,1892.5 691.38,1916.5 692.15,1919.8 694.85,1928.1 696.77,1931.6 697.15,1931.3 697.54,1929.9 698.31,1929.1 699.08,1927.2 700.62,1922.4 701,1920.3 705.23,1884.5 706.77,1874.4 709.46,1866.4 710.62,1864.2 711,1865.2 711.38,1863.4 711.77,1865.2 712.15,1865 712.54,1865.3 713.31,1866.5 715.62,1872.6 719.85,1891.6 723.31,1900.3 724.46,1902.5 725.62,1903.7 726,1904.7 726.38,1905 731.77,1905.3 733.31,1904.7 733.69,1903.7 734.08,1904.1 735.23,1901.8 735.62,1902 736,1901.1 737.15,1900.1 742.54,1890.6 744.46,1889.5 744.85,1888.2 747.92,1887.2 748.31,1885.8 748.69,1885.7 749.46,1885.5 749.85,1887 750.23,1885.4 752.54,1885.2 752.92,1883.4 759.08,1883.2 759.46,1881.1 759.85,1883.2 760.23,1883.2 760.62,1881.1 761,1881.1 761.38,1883.2 762.15,1883.2 762.54,1881 762.92,1881 763.31,1883.2 763.69,1881 764.08,1881 764.46,1883.2 764.85,1881 765.62,1881 766,1883.2 766.38,1881 766.77,1881 767.15,1883.2 767.54,1881 768.31,1881 768.69,1883.2 769.08,1881 769.46,1883.2 769.85,1881 770.23,1881 770.62,1883.2 771,1881 772.15,1881 772.54,1883.2 772.92,1881 782.15,1881 782.54,1878.8 782.92,1881 783.31,1881 783.69,1878.8 784.08,1881 786,1881 786.38,1878.8 786.77,1881 788.31,1881 788.69,1878.8 789.08,1878.8 789.46,1881 789.85,1881 790.23,1878.8 790.62,1878.8 791,1881 791.77,1881 792.15,1878.8 795.23,1878.8 795.62,1881 796,1881 796.38,1878.8 806,1878.8 806.38,1876.6 806.77,1878.8 807.92,1878.8 808.31,1876.6 808.69,1878.8 809.08,1876.6 809.46,1878.8 810.23,1878.8 810.62,1876.6 811,1876.6 811.38,1878.8 811.77,1876.6 812.15,1876.6 812.54,1878.8 812.92,1876.6 814.46,1876.6 814.85,1878.8 815.23,1876.6 815.62,1878.8 816,1876.6 819.08,1876.6 819.46,1878.8 819.85,1876.6 820.23,1876.6 820.62,1878.8 821,1876.6 821.77,1876.6 822.15,1878.8 822.54,1876.6 826,1876.6 826.38,1878.8 826.77,1876.6 838.31,1876.6 838.69,1874.4 839.08,1876.6 840.23,1876.6 840.62,1874.4 841,1874.4 841.38,1876.6 842.92,1876.6 843.31,1874.4 843.69,1876.6 844.08,1874.4 844.46,1876.6 845.62,1876.6 846,1874.4 846.38,1876.6 846.77,1876.6 847.15,1874.4 848.69,1874.4 849.08,1876.6 849.46,1876.6 849.85,1874.4 850.62,1874.4 851,1876.6 851.38,1874.4 851.77,1876.6 852.15,1874.4 852.54,1876.6 852.92,1876.6 853.31,1874.4 862.54,1874.4 862.92,1876.6 863.31,1874.4 867.15,1874.4 867.54,1872.2 867.92,1874.4 868.69,1874.4 869.08,1872.2 869.46,1874.4 874.08,1874.4 874.46,1872.2 874.85,1872.2 875.23,1874.4 877.15,1874.4 877.54,1872.2 878.69,1872.2 879.08,1874.4 879.85,1874.4 880.23,1872.2 881.38,1872.2 881.77,1874.4 882.15,1872.2 882.54,1874.4 882.92,1874.4 883.31,1872.2 884.08,1872.2 884.46,1874.4 884.85,1872.2 885.23,1874.4 885.62,1874.4 886,1872.2 891,1872.2 891.38,1874.4 891.77,1874.4 892.15,1872.2 893.31,1872.2 893.69,1874.4 894.08,1872.2 895.62,1872.2 896,1874.4 896.38,1872.2 898.31,1872.2 898.69,1874.4 899.08,1872.2 901.38,1872.2 901.77,1874.4 902.15,1872.2 904.85,1872.2 905.23,1874.4 905.62,1872.2 906,1874.4 906.38,1872.2 907.15,1872.2 907.54,1870 908.31,1874.4 908.69,1872.2 909.08,1872.2 909.46,1874.4 909.85,1872.2 918.31,1872.2 918.69,1870 919.08,1874.4 919.46,1872.2 921.38,1872.2 921.77,1874.4 922.15,1872.2 925.62,1872.2 926,1874.4 926.38,1872.2 928.31,1872.2 928.69,1874.4 929.08,1872.2 939.08,1872.2 939.46,1870 939.85,1872.2 951,1872.2 951.38,1870 951.77,1872.2 952.15,1870 952.54,1872.2 954.08,1872.2 954.46,1870 954.85,1872.2 955.23,1870 955.62,1872.2 957.54,1872.2 957.92,1870 958.31,1872.2 958.69,1870 959.85,1870 960.23,1872.2 960.62,1870 961,1872.2 961.77,1872.2 962.15,1870 962.54,1872.2 962.92,1872.2 963.31,1870 963.69,1872.2 964.08,1870 967.54,1870 967.92,1872.2 968.31,1870 972.54,1870 972.92,1872.2 973.31,1870 985.62,1870 986,1867.8 986.38,1870 986.77,1870 987.15,1867.8 987.54,1870 989.46,1870 989.85,1867.8 990.23,1870 991.77,1870 992.15,1867.8 992.54,1870 993.69,1870 994.08,1867.8 994.46,1867.8 994.85,1870 996,1870 996.38,1867.8 996.77,1867.8 997.15,1870 999.08,1870 999.46,1867.8 1000.23,1867.8 1000.62,1870 1001,1867.8 1001.38,1870 1001.77,1867.8 1002.15,1870 1002.92,1870 1003.31,1867.8 1003.69,1870 1004.46,1870 1004.85,1867.8 1005.23,1870 1005.62,1870 1006,1867.8 1006.77,1867.8 1007.15,1870 1007.54,1867.8 1007.92,1870 1008.69,1870 1009.08,1867.8 1009.46,1870 1009.85,1870 1010.23,1867.8 1011,1867.8 1011.38,1870 1012.15,1870 1012.54,1867.8 1012.92,1870 1013.31,1867.8 1014.85,1867.8 1015.23,1870 1015.62,1867.8 1016,1867.8 1016.38,1870 1016.77,1867.8 1017.54,1867.8 1017.92,1870 1018.31,1867.8 1019.46,1867.8 1019.85,1870 1020.23,1870 1020.62,1867.8 1021.38,1867.8 1021.77,1870 1022.15,1867.8 1028.31,1867.8 1028.69,1870 1029.08,1867.8 1032.15,1867.8 1032.54,1870 1032.92,1867.8 1036.77,1867.8 1037.15,1870 1037.54,1867.8 1058.69,1867.8 1059.08,1865.6 1059.46,1867.8 1059.85,1865.6 1060.23,1867.8 1065.62,1867.8 1066,1865.6 1066.38,1867.8 1066.77,1865.6 1067.54,1865.6 1067.92,1867.8 1069.08,1867.8 1069.46,1865.6 1069.85,1867.8 1071.77,1867.8 1072.15,1865.6 1072.54,1867.8 1072.92,1867.8 1073.31,1865.6 1073.69,1867.8 1074.08,1867.8 1074.46,1865.6 1074.85,1867.8 1075.23,1865.6 1075.62,1867.8 1076,1865.6 1076.77,1865.6 1077.15,1867.8 1077.54,1865.6 1077.92,1867.8 1078.31,1865.6 1078.69,1867.8 1079.08,1867.8 1079.46,1865.6 1079.85,1867.8 1081.38,1867.8 1081.77,1865.6 1082.15,1867.8 1082.54,1867.8 1082.92,1865.6 1083.31,1867.8 1083.69,1865.6 1084.08,1867.8 1084.85,1867.8 1085.23,1865.6 1085.62,1865.6 1086,1867.8 1086.77,1867.8 1087.15,1865.6 1087.92,1865.6 1088.31,1867.8 1088.69,1865.6 1089.08,1865.6 1089.46,1867.8 1089.85,1865.6 1090.23,1865.6 1090.62,1867.8 1091,1865.6 1092.15,1865.6 1092.54,1867.8 1092.92,1865.6 1093.69,1865.6 1094.08,1867.8 1094.46,1865.6 1094.85,1865.6 1095.23,1867.8 1095.62,1865.6 1096.38,1865.6 1096.77,1867.8 1097.15,1865.6 1098.69,1865.6 1099.08,1867.8 1099.46,1865.6 1100.62,1865.6 1101,1867.8 1101.38,1865.6 1102.15,1865.6 1102.54,1867.8 1102.92,1865.6 1104.46,1865.6 1104.85,1867.8 1105.08,1865.6"/>
<polyline class="tr" style="stroke-width:2.9" points="196.77,1972.3 197.15,1972.3 197.54,1974.3 197.92,1972.3 202.92,1972.2 203.31,1970.1 203.69,1972.2 204.85,1972.2 205.23,1970.1 205.62,1972.2 206.38,1972.2 206.77,1970 207.54,1970 207.92,1972.2 208.69,1972.2 209.08,1970 209.46,1970 210.62,1970 211,1972.2 211.77,1972.2 212.15,1970 212.54,1972.2 212.92,1970 214.08,1970 214.46,1972.2 214.85,1972.2 215.23,1970 215.62,1972.2 216.38,1972.2 216.77,1970 217.15,1972.2 218.31,1972.2 218.69,1970 219.85,1970 220.23,1972.2 221.38,1972.2 221.77,1970 222.15,1970 222.54,1972.2 222.92,1970 223.69,1970 224.08,1972.2 237.54,1972.4 239.08,1974.8 239.85,1976.6 242.92,1985.4 247.92,2008.9 250.62,2017.7 252.92,2024 255.23,2028.7 257.92,2033.1 259.08,2034 259.85,2034.2 260.23,2035.7 260.62,2035.8 261,2034.1 261.38,2035.9 269.85,2036 270.23,2038.2 271,2038.2 271.38,2036 271.77,2038.2 272.15,2038.2 272.54,2036 272.92,2038.2 273.31,2038.2 273.69,2036 274.08,2038.2 281.77,2038.4 282.15,2040 282.54,2039.9 283.31,2040.8 284.46,2043.4 287.92,2052.9 289.08,2054.2 289.46,2055.5 289.85,2055.7 317.92,2055.8 318.31,2058 319.08,2058 319.46,2055.8 319.85,2055.8 320.23,2058 320.62,2058 321,2055.8 321.38,2055.8 321.77,2058 322.92,2057.9 323.31,2056.2 323.69,2057.8 324.85,2058.6 329.85,2068.3 331,2069.2 332.15,2069 332.54,2071.2 332.92,2071.2 333.31,2069 334.08,2069 334.46,2071.2 334.85,2069 335.23,2071.2 335.62,2071.2 336,2069 336.38,2071.2 336.77,2069 337.15,2071.2 366.77,2071.3 367.92,2071.9 368.31,2073 369.46,2074.1 371,2077 372.54,2078.5 372.92,2079.6 373.69,2079.9 403.69,2080 404.08,2082.2 404.46,2080 406.38,2080 406.77,2082.2 407.15,2080 407.54,2080 407.92,2082.1 409.08,2081.9 410.23,2082.5 410.62,2083.5 412.54,2085.1 412.92,2086.1 413.31,2086.4 414.46,2086.7 417.92,2086.6 418.31,2088.8 418.69,2086.6 420.62,2086.6 421,2088.8 421.38,2086.6 421.77,2086.6 422.15,2088.8 422.54,2086.6 422.92,2086.6 423.31,2088.8 423.69,2086.6 424.08,2088.8 424.46,2086.6 424.85,2088.8 425.23,2088.8 425.62,2086.6 426.38,2086.6 426.77,2088.8 427.15,2086.6 427.54,2088.8 427.92,2088.8 428.31,2086.6 429.46,2086.6 429.85,2088.8 430.23,2088.8 430.62,2086.6 431,2086.6 431.38,2088.8 434.46,2088.8 434.85,2086.6 435.23,2088.8 436,2088.8 436.38,2086.6 436.77,2088.8 437.15,2088.8 437.54,2086.6 437.92,2086.6 438.31,2088.8 441.77,2088.7 444.08,2091.5 444.46,2092.5 445.62,2093.2 461.38,2093.2 461.77,2095 462.15,2094.8 462.92,2095.2 464.85,2097.7 466,2097.9 466.38,2099.7 467.15,2099.8 467.54,2097.6 467.92,2099.8 479.85,2099.8 480.23,2097.6 480.62,2099.8 483.31,2099.8 484.85,2100.1 485.23,2101.4 488.69,2102.2 489.08,2104 489.46,2102.1 489.85,2104.2 504.46,2104.2 504.85,2106.3 505.23,2104.3 506,2104.5 506.38,2106.1 509.08,2106.8 509.46,2108.1 509.85,2107 510.23,2108.4 512.54,2108.7 512.92,2110.6 513.31,2108.7 514.46,2108.7 514.85,2110.7 526.77,2110.9 527.15,2112.9 527.54,2111 527.92,2112.9 532.54,2113.2 532.92,2115 533.69,2115.1 534.08,2113.2 534.46,2115.1 539.08,2115.3 539.46,2117.2 539.85,2115.3 540.62,2115.3 541,2115.3 541.38,2117.3 547.92,2117.5 548.31,2119.4 548.69,2117.5 549.08,2117.5 549.46,2119.5 549.85,2119.5 550.23,2117.6 550.62,2119.5 556.38,2119.7 556.77,2121.7 564.46,2122 564.85,2123.9 571,2124.1 571.38,2126.1 578.69,2126.3 579.08,2128.3 579.46,2126.3 580.23,2126.3 580.62,2128.3 589.08,2128.5 589.46,2130.5 589.85,2130.5 590.23,2128.5 590.62,2130.5 591,2128.5 591.38,2130.6 591.77,2128.5 592.15,2130.6 602.15,2130.6 602.54,2132.8 603.31,2132.8 603.69,2130.6 604.08,2132.8 604.46,2130.6 604.85,2132.8 605.23,2130.6 606,2130.6 606.38,2132.8 606.77,2130.6 607.15,2130.6 607.54,2132.8 608.31,2132.8 608.69,2130.6 609.08,2132.8 632.92,2132.8 633.31,2135 634.08,2135 634.46,2132.8 636,2132.8 636.38,2135 636.77,2132.8 637.15,2135 637.54,2132.8 638.31,2132.8 638.69,2135 639.08,2132.8 639.46,2132.8 639.85,2135 640.23,2132.8 640.62,2135 641,2132.8 641.77,2132.8 642.15,2135 642.54,2135 642.92,2132.8 643.31,2135 643.69,2135 644.08,2132.8 644.46,2132.8 644.85,2135 645.23,2132.8 645.62,2135 646,2132.8 646.38,2135 646.77,2132.8 647.15,2132.8 647.54,2135 649.46,2135 649.85,2132.8 650.23,2135 651,2135 651.38,2132.8 651.77,2135 654.85,2135 655.23,2132.8 655.62,2135 685.62,2135 686,2137.1 686.38,2135.1 686.77,2135.1 687.15,2137.1 691.38,2137.2 709.08,2137.1 709.85,2136.6 710.23,2135.5 711.38,2134.3 712.92,2130.8 714.08,2122.4 715.62,2106.1 720.23,2045 722.15,2025.8 724.08,2010.9 726.38,1998.8 728.31,1992.7 729.46,1990.6 731,1989.3 731.38,1988.1 733.31,1987.6 737.15,1987.6 737.54,1985.4 737.92,1987.6 738.31,1987.6 738.69,1985.4 739.08,1987.6 739.85,1987.6 740.23,1985.4 740.62,1987.6 741,1985.4 741.77,1985.4 742.15,1987.6 742.54,1985.4 742.92,1987.6 744.46,1987.6 744.85,1985.4 745.23,1987.6 745.62,1985.4 746,1987.6 746.38,1987.6 746.77,1985.4 747.15,1987.6 747.54,1985.4 747.92,1985.4 748.31,1987.6 749.46,1987.6 749.85,1985.4 750.23,1987.6 750.62,1985.4 751,1987.6 751.77,1987.6 752.15,1985.4 753.69,1985.4 754.08,1987.6 754.46,1985.4 754.85,1985.4 755.23,1987.6 755.62,1985.4 756.38,1985.4 756.77,1987.6 757.54,1987.6 757.92,1985.4 758.31,1987.6 758.69,1985.4 759.08,1987.6 759.46,1985.4 759.85,1987.6 760.23,1985.4 760.62,1985.4 761,1987.6 761.38,1985.4 761.77,1987.6 762.15,1985.4 762.54,1985.4 762.92,1987.6 763.69,1987.6 764.08,1985.4 766,1985.4 766.38,1987.6 766.77,1985.4 767.15,1985.4 767.54,1987.6 767.92,1985.4 768.69,1985.4 769.08,1987.6 769.46,1985.4 771.38,1985.4 771.77,1987.6 772.15,1985.4 773.31,1985.4 773.69,1987.6 774.08,1985.4 774.46,1987.6 774.85,1985.4 777.15,1985.4 777.54,1987.6 777.92,1985.4 779.85,1985.4 780.23,1987.6 780.62,1985.4 781,1985.4 781.38,1987.6 781.77,1985.4 782.54,1985.4 782.92,1987.6 783.31,1985.4 785.62,1985.4 786,1987.6 786.38,1985.4 789.85,1985.4 790.23,1987.6 791,1987.6 791.38,1985.4 791.77,1987.6 792.15,1985.4 792.54,1987.6 792.92,1985.4 793.31,1987.6 793.69,1985.4 796,1985.4 796.38,1987.6 796.77,1985.4 797.15,1987.6 797.54,1985.4 797.92,1987.6 798.31,1985.4 798.69,1987.6 799.08,1985.4 799.46,1987.6 799.85,1987.6 800.23,1985.4 803.31,1985.4 803.69,1987.6 804.08,1985.4 804.46,1987.6 804.85,1985.4 806.38,1985.4 806.77,1987.6 807.15,1985.4 807.92,1985.4 808.31,1987.6 808.69,1985.4 813.69,1985.4 814.08,1987.6 814.46,1985.4 824.46,1985.4 824.85,1983.2 825.23,1985.4 846.38,1985.4 846.77,1987.6 847.15,1985.4 851,1985.4 851.38,1983.2 851.77,1985.4 853.69,1985.4 854.08,1983.2 854.46,1985.4 858.69,1985.4 859.08,1983.2 859.46,1985.4 864.46,1985.4 864.85,1983.2 865.23,1985.4 870.62,1985.4 871,1983.2 871.38,1985.4 871.77,1983.2 872.15,1985.4 872.54,1985.4 872.92,1983.2 873.31,1985.4 875.62,1985.4 876,1983.2 876.38,1985.4 876.77,1983.2 877.15,1985.4 884.08,1985.4 884.46,1983.2 884.85,1985.4 886,1985.4 886.38,1983.2 886.77,1985.4 887.15,1983.2 887.54,1985.4 887.92,1985.4 888.31,1983.2 888.69,1985.4 889.08,1985.4 889.46,1983.2 889.85,1983.2 890.23,1985.4 890.62,1983.2 891,1985.4 891.77,1985.4 892.15,1983.2 892.92,1983.2 893.31,1985.4 894.08,1985.4 894.46,1983.2 894.85,1983.2 895.23,1985.4 896,1985.4 896.38,1983.2 896.77,1985.4 897.15,1983.2 897.54,1985.4 897.92,1983.2 898.31,1985.4 898.69,1983.2 899.08,1985.4 900.62,1985.4 901,1983.2 901.38,1985.4 901.77,1985.4 902.15,1983.2 902.54,1985.4 903.31,1985.4 903.69,1983.2 904.08,1985.4 906.38,1985.4 906.77,1983.2 907.15,1985.4 907.54,1983.2 908.31,1983.2 908.69,1985.4 910.23,1985.4 910.62,1983.2 911.38,1983.2 911.77,1985.4 912.15,1983.2 912.54,1985.4 912.92,1985.4 913.31,1983.2 913.69,1983.2 914.08,1985.4 914.46,1983.2 914.85,1983.2 915.23,1985.4 915.62,1983.2 916,1983.2 916.38,1985.4 917.15,1985.4 917.54,1983.2 917.92,1983.2 918.31,1985.4 918.69,1983.2 919.08,1983.2 919.46,1985.4 919.85,1983.2 920.23,1985.4 920.62,1983.2 921,1985.4 921.38,1983.2 921.77,1983.2 922.15,1985.4 922.54,1983.2 922.92,1985.4 924.08,1985.4 924.46,1983.2 924.85,1985.4 927.15,1985.4 927.54,1983.2 927.92,1985.4 928.69,1985.4 929.08,1983.2 929.46,1985.4 929.85,1983.2 930.23,1985.4 930.62,1985.4 931,1983.2 931.77,1983.2 932.15,1985.4 932.54,1983.2 932.92,1983.2 933.31,1985.4 933.69,1983.2 934.08,1983.2 934.46,1985.4 934.85,1983.2 935.62,1983.2 936,1985.4 936.38,1983.2 936.77,1983.2 937.15,1985.4 937.92,1985.4 938.31,1983.2 938.69,1985.4 939.08,1985.4 939.46,1983.2 939.85,1985.4 940.23,1983.2 940.62,1983.2 941,1985.4 941.38,1983.2 942.15,1983.2 942.54,1985.4 943.69,1985.4 944.08,1983.2 944.46,1985.4 944.85,1983.2 945.62,1983.2 946,1985.4 946.38,1985.4 946.77,1983.2 947.92,1983.2 948.31,1985.4 948.69,1983.2 949.08,1985.4 949.46,1983.2 949.85,1985.4 950.23,1985.4 950.62,1983.2 951.77,1983.2 952.15,1985.4 952.54,1983.2 952.92,1983.2 953.31,1985.4 953.69,1983.2 954.46,1983.2 954.85,1985.4 955.23,1985.4 955.62,1983.2 956.38,1983.2 956.77,1985.4 957.15,1985.4 957.54,1983.2 957.92,1983.2 958.31,1985.4 958.69,1985.4 959.08,1983.2 961,1983.2 961.38,1985.4 961.77,1983.2 962.15,1985.4 962.54,1983.2 962.92,1985.4 963.31,1983.2 963.69,1983.2 964.08,1985.4 964.46,1983.2 964.85,1985.4 965.23,1983.2 966,1983.2 966.38,1985.4 966.77,1983.2 968.31,1983.2 968.69,1985.4 969.08,1983.2 969.46,1983.2 969.85,1985.4 970.62,1985.4 971,1983.2 971.38,1985.4 971.77,1983.2 972.54,1983.2 972.92,1985.4 973.31,1985.4 973.69,1983.2 974.08,1983.2 974.46,1985.4 974.85,1983.2 975.23,1985.4 975.62,1983.2 977.15,1983.2 977.54,1985.4 978.31,1985.4 978.69,1983.2 979.85,1983.2 980.23,1985.4 980.62,1983.2 982.92,1983.2 983.31,1985.4 984.46,1985.4 984.85,1983.2 985.23,1985.4 985.62,1985.4 986,1983.2 989.08,1983.2 989.46,1985.4 989.85,1985.4 990.23,1983.2 992.15,1983.2 992.54,1985.4 992.92,1983.2 993.69,1983.2 994.08,1985.4 994.85,1985.4 995.23,1983.2 996.38,1983.2 996.77,1985.4 997.15,1983.2 997.54,1983.2 997.92,1985.4 998.31,1983.2 999.85,1983.2 1000.23,1985.4 1000.62,1983.2 1001,1985.4 1001.38,1985.4 1001.77,1983.2 1002.15,1985.4 1002.54,1983.2 1002.92,1983.2 1003.31,1985.4 1003.69,1985.4 1004.08,1983.2 1005.23,1983.2 1005.62,1985.4 1006,1983.2 1009.08,1983.2 1009.46,1985.4 1009.85,1985.4 1010.23,1983.2 1011,1983.2 1011.38,1985.4 1011.77,1983.2 1012.15,1983.2 1012.54,1985.4 1012.92,1983.2 1013.69,1983.2 1014.08,1985.4 1014.46,1983.2 1016,1983.2 1016.38,1985.4 1016.77,1985.4 1017.15,1983.2 1017.54,1985.4 1017.92,1983.2 1018.31,1985.4 1018.69,1983.2 1020.23,1983.2 1020.62,1985.4 1021,1983.2 1021.38,1983.2 1021.77,1985.4 1022.15,1983.2 1022.54,1985.4 1022.92,1985.4 1023.31,1983.2 1024.46,1983.2 1024.85,1985.4 1025.62,1985.4 1026,1983.2 1026.38,1983.2 1026.77,1985.4 1027.15,1983.2 1027.54,1983.2 1027.92,1985.4 1028.31,1983.2 1029.08,1983.2 1029.46,1985.4 1029.85,1983.2 1033.69,1983.2 1034.08,1985.4 1034.46,1983.2 1037.15,1983.2 1037.54,1985.4 1037.92,1983.2 1038.31,1985.4 1038.69,1983.2 1039.08,1983.2 1039.46,1985.4 1039.85,1983.2 1040.23,1985.4 1040.62,1985.4 1041,1983.2 1045.23,1983.2 1045.62,1985.4 1046.38,1985.4 1046.77,1983.2 1047.15,1985.4 1047.54,1983.2 1047.92,1983.2 1048.31,1985.4 1048.69,1985.4 1049.08,1983.2 1049.46,1985.4 1049.85,1983.2 1052.15,1983.2 1052.54,1985.4 1052.92,1983.2 1053.69,1983.2 1054.08,1985.4 1054.46,1983.2 1054.85,1983.2 1055.23,1985.4 1055.62,1983.2 1056,1985.4 1056.38,1983.2 1056.77,1985.4 1057.15,1983.2 1057.54,1985.4 1057.92,1983.2 1059.46,1983.2 1059.85,1985.4 1060.62,1985.4 1061,1983.2 1064.08,1983.2 1064.46,1985.4 1064.85,1983.2 1065.23,1983.2 1065.62,1985.4 1066,1983.2 1066.38,1985.4 1066.77,1983.2 1070.23,1983.2 1070.62,1985.4 1071,1983.2 1071.38,1985.4 1071.77,1983.2 1074.08,1983.2 1074.46,1985.4 1074.85,1983.2 1076.77,1983.2 1077.15,1985.4 1077.54,1983.2 1080.23,1983.2 1080.62,1985.4 1081,1983.2 1081.38,1985.4 1081.77,1983.2 1082.15,1983.2 1082.54,1985.4 1082.92,1983.2 1083.69,1983.2 1084.08,1985.4 1084.46,1983.2 1086,1983.2 1086.38,1985.4 1086.77,1983.2 1087.15,1985.4 1087.54,1983.2 1087.92,1985.4 1088.31,1983.2 1088.69,1985.4 1089.08,1983.2 1090.23,1983.2 1090.62,1985.4 1091,1983.2 1092.15,1983.2 1092.54,1985.4 1092.92,1983.2 1093.31,1983.2 1093.69,1985.4 1094.08,1983.2 1094.46,1985.4 1094.85,1983.2 1097.15,1983.2 1097.54,1985.4 1097.92,1985.4 1098.31,1983.2 1098.69,1983.2 1099.08,1985.4 1099.46,1983.2 1099.85,1983.2 1100.23,1985.4 1100.62,1983.2 1101.77,1983.2 1102.15,1985.4 1102.54,1983.2 1104.08,1983.2 1104.46,1985.4 1104.85,1985.4 1105.08,1983.2"/>
</g>
<line class="ax" x1="950.9" y1="50.2" x2="950.9" y2="2134" stroke-width="4.6" stroke-dasharray="7.6 10.13"/>
<g id="markers">
<line class="mk" x1="433.2" y1="107.6" x2="433.2" y2="180.6"/>
<line class="mk" x1="441.5" y1="287.6" x2="441.5" y2="359.9"/>
<line class="mk" x1="471.5" y1="462.6" x2="471.5" y2="534.9"/>
<line class="mk" x1="482.5" y1="642.6" x2="482.5" y2="714.9"/>
<line class="mk" x1="490.5" y1="820.9" x2="490.5" y2="892.6"/>
<line class="mk" x1="504.2" y1="997.6" x2="504.2" y2="1069.2"/>
<line class="mk" x1="538.1" y1="1174.9" x2="538.1" y2="1246.5"/>
<line class="mk" x1="540.8" y1="1347.6" x2="540.8" y2="1418.9"/>
<line class="mk" x1="569.1" y1="1529.3" x2="569.1" y2="1601.5"/>
<line class="mk" x1="579.8" y1="1707.3" x2="579.8" y2="1778.9"/>
<line class="mk" x1="607.4" y1="1886.6" x2="607.4" y2="1959.2"/>
<line class="mk" x1="629.1" y1="2066.6" x2="629.1" y2="2137.5"/>
</g>
<g id="axes">
<line class="ax" x1="237.1" y1="47.5" x2="237.1" y2="2167.2" stroke-width="5.0"/>
<line class="ax" x1="234.6" y1="2164.6" x2="1436.3" y2="2164.6" stroke-width="5.0"/>
<line class="ax" x1="196.2" y1="50.3" x2="237.1" y2="50.3" stroke-width="5.3"/>
<line class="ax" x1="215.3" y1="93.9" x2="237.1" y2="93.9" stroke-width="4.8"/>
<line class="ax" x1="215.3" y1="137.6" x2="237.1" y2="137.6" stroke-width="4.8"/>
<line class="ax" x1="215.3" y1="181.2" x2="237.1" y2="181.2" stroke-width="4.8"/>
<line class="ax" x1="196.2" y1="224.8" x2="237.1" y2="224.8" stroke-width="5.3"/>
<line class="ax" x1="215.3" y1="268.4" x2="237.1" y2="268.4" stroke-width="4.8"/>
<line class="ax" x1="215.3" y1="312.1" x2="237.1" y2="312.1" stroke-width="4.2"/>
<line class="ax" x1="215.3" y1="355.7" x2="237.1" y2="355.7" stroke-width="4.2"/>
<line class="ax" x1="196.2" y1="399.3" x2="237.1" y2="399.3" stroke-width="5.2"/>
<line class="ax" x1="215.3" y1="443" x2="237.1" y2="443" stroke-width="4.8"/>
<line class="ax" x1="215.3" y1="486.6" x2="237.1" y2="486.6" stroke-width="4.8"/>
<line class="ax" x1="215.3" y1="530.2" x2="237.1" y2="530.2" stroke-width="4.8"/>
<line class="ax" x1="196.2" y1="573.9" x2="237.1" y2="573.9" stroke-width="4.8"/>
<line class="ax" x1="215.3" y1="617.5" x2="237.1" y2="617.5" stroke-width="4.8"/>
<line class="ax" x1="215.3" y1="661.1" x2="237.1" y2="661.1" stroke-width="4.8"/>
<line class="ax" x1="215.3" y1="704.8" x2="237.1" y2="704.8" stroke-width="4.2"/>
<line class="ax" x1="196.2" y1="748.4" x2="237.1" y2="748.4" stroke-width="4.4"/>
<line class="ax" x1="215.3" y1="792" x2="237.1" y2="792" stroke-width="4.8"/>
<line class="ax" x1="215.3" y1="835.6" x2="237.1" y2="835.6" stroke-width="4.8"/>
<line class="ax" x1="215.3" y1="879.3" x2="237.1" y2="879.3" stroke-width="4.2"/>
<line class="ax" x1="196.2" y1="922.9" x2="237.1" y2="922.9" stroke-width="4.8"/>
<line class="ax" x1="215.3" y1="966.5" x2="237.1" y2="966.5" stroke-width="4.8"/>
<line class="ax" x1="215.3" y1="1010.2" x2="237.1" y2="1010.2" stroke-width="3.5"/>
<line class="ax" x1="215.3" y1="1053.8" x2="237.1" y2="1053.8" stroke-width="2.9"/>
<line class="ax" x1="196.2" y1="1097.4" x2="237.1" y2="1097.4" stroke-width="3.9"/>
<line class="ax" x1="215.3" y1="1141" x2="237.1" y2="1141" stroke-width="4.3"/>
<line class="ax" x1="215.3" y1="1184.7" x2="237.1" y2="1184.7" stroke-width="4.3"/>
<line class="ax" x1="215.3" y1="1228.3" x2="237.1" y2="1228.3" stroke-width="3"/>
<line class="ax" x1="196.2" y1="1271.9" x2="237.1" y2="1271.9" stroke-width="2.9"/>
<line class="ax" x1="215.3" y1="1315.6" x2="237.1" y2="1315.6" stroke-width="2.9"/>
<line class="ax" x1="215.3" y1="1359.2" x2="237.1" y2="1359.2" stroke-width="2.9"/>
<line class="ax" x1="215.3" y1="1402.8" x2="237.1" y2="1402.8" stroke-width="2.9"/>
<line class="ax" x1="196.2" y1="1446.5" x2="237.1" y2="1446.5" stroke-width="2.9"/>
<line class="ax" x1="215.3" y1="1490.1" x2="237.1" y2="1490.1" stroke-width="2.9"/>
<line class="ax" x1="215.3" y1="1533.7" x2="237.1" y2="1533.7" stroke-width="2.9"/>
<line class="ax" x1="215.3" y1="1577.4" x2="237.1" y2="1577.4" stroke-width="2.9"/>
<line class="ax" x1="196.2" y1="1621" x2="237.1" y2="1621" stroke-width="2.9"/>
<line class="ax" x1="215.3" y1="1664.6" x2="237.1" y2="1664.6" stroke-width="2.9"/>
<line class="ax" x1="215.3" y1="1708.2" x2="237.1" y2="1708.2" stroke-width="2.9"/>
<line class="ax" x1="215.3" y1="1751.9" x2="237.1" y2="1751.9" stroke-width="2.9"/>
<line class="ax" x1="196.2" y1="1795.5" x2="237.1" y2="1795.5" stroke-width="2.9"/>
<line class="ax" x1="215.3" y1="1839.1" x2="237.1" y2="1839.1" stroke-width="2.9"/>
<line class="ax" x1="215.3" y1="1882.8" x2="237.1" y2="1882.8" stroke-width="2.9"/>
<line class="ax" x1="215.3" y1="1926.4" x2="237.1" y2="1926.4" stroke-width="2.9"/>
<line class="ax" x1="196.2" y1="1970" x2="237.1" y2="1970" stroke-width="2.9"/>
<line class="ax" x1="215.3" y1="2013.7" x2="237.1" y2="2013.7" stroke-width="2.9"/>
<line class="ax" x1="215.3" y1="2057.3" x2="237.1" y2="2057.3" stroke-width="2.9"/>
<line class="ax" x1="215.3" y1="2100.9" x2="237.1" y2="2100.9" stroke-width="2.9"/>
<line class="ax" x1="196.2" y1="2144.5" x2="237.1" y2="2144.5" stroke-width="2.9"/>
<line class="ax" x1="256.1" y1="2164.5" x2="256.1" y2="2205.8" stroke-width="5"/>
<line class="ax" x1="533.7" y1="2164.5" x2="533.7" y2="2205.8" stroke-width="4.6"/>
<line class="ax" x1="811.3" y1="2164.5" x2="811.3" y2="2205.8" stroke-width="3.6"/>
<line class="ax" x1="1088.9" y1="2164.5" x2="1088.9" y2="2205.8" stroke-width="3.2"/>
<line class="ax" x1="1366.5" y1="2164.5" x2="1366.5" y2="2205.8" stroke-width="2.6"/>
</g>
<g id="scalebar" class="ax" stroke-width="2.6"><line x1="1020.6" y1="2013" x2="1020.6" y2="2101.5"/><line x1="1005.8" y1="2013.3" x2="1035.4" y2="2013.3"/><line x1="1005.8" y1="2101.3" x2="1035.4" y2="2101.3"/></g>
<g id="ylabels">
<text x="141.1" y="84.6">0</text>
<text x="141.1" y="259.5">0</text>
<text x="141.1" y="433.7">0</text>
<text x="141.1" y="603.3">0</text>
<text x="141.1" y="777.9">0</text>
<text x="141.1" y="953">0</text>
<text x="141.1" y="1122.2">0</text>
<text x="141.1" y="1298">0</text>
<text x="141.1" y="1473.3">0</text>
<text x="148.3" y="1651.4">0</text>
<text x="148.3" y="1827.1">0</text>
<text x="148.3" y="2002.9">0</text>
</g>
<g id="rlabels">
<text x="1288.1 1328.1 1346.8 1389.4" y="96.6">1.60</text>
<text x="1288.1 1328.1 1346.8 1389.4" y="270.3">1.46</text>
<text x="1291.9 1331.9 1350.6 1393.2" y="450.5">1.33</text>
<text x="1288.1 1328.1 1346.8 1389.4" y="620">1.26</text>
<text x="1291.8 1331.8 1350.5 1393.1" y="793.5">1.20</text>
<text x="1288.1 1328.1 1344.8 1389.4" y="972.5">1.14</text>
<text x="1288.1 1328.1 1346.8 1389.4" y="1139.7">1.09</text>
<text x="1288.1 1328.1 1346.8 1389.4" y="1323">1.04</text>
<text x="1291.1 1329.1 1347.8 1390.4" y="1493.6">0.98</text>
<text x="1295.8 1333.8 1352.5 1395.1" y="1666">0.92</text>
<text x="1298.2 1336.2 1354.9 1397.5" y="1840.3">0.86</text>
<text x="1298.6 1336.6 1355.3 1395.9" y="1966.5">0.81</text>
</g>
<g id="xlabels">
<text x="236.1" y="2298.2">0</text>
<text x="471.3 512 552.7" y="2298.2">200</text>
<text x="749.4 790.1 830.8" y="2298.2">400</text>
<text x="1026.4 1067.1 1107.8" y="2298.2">600</text>
<text x="1303.1 1343.8 1384.5" y="2298.2">800</text>
</g>
<text style="font-size:77.5px" x="680.6 729.8 746.3 807.4 860 872 900.2 950.1 987.9" y="2406.3 2406.3 2406.3 2406.3 2406.3 2400.3 2406.3 2406.3 2400.3">Time (µs)</text>
<text x="1052.9 1093 1133.1 1185 1203 1270 1294.5 1321.6 1369.8 1416.8" y="2087 2087 2087 2087 2087 2087 2082.5 2087 2087 2082.5">350 V (Pa)</text>
<text transform="translate(83.8,0) rotate(-90)" style="font-size:77.5px" x="-1291.7 -1240.5 -1198.5 -1178 -1155 -1110.2 -1071.7 -1018 -1007.3 -979.3 -924.9" y="0 0 0 0 0 0 0 0 -6 0 -6">Voltage (V)</text>
</svg>
</body>
</html>
